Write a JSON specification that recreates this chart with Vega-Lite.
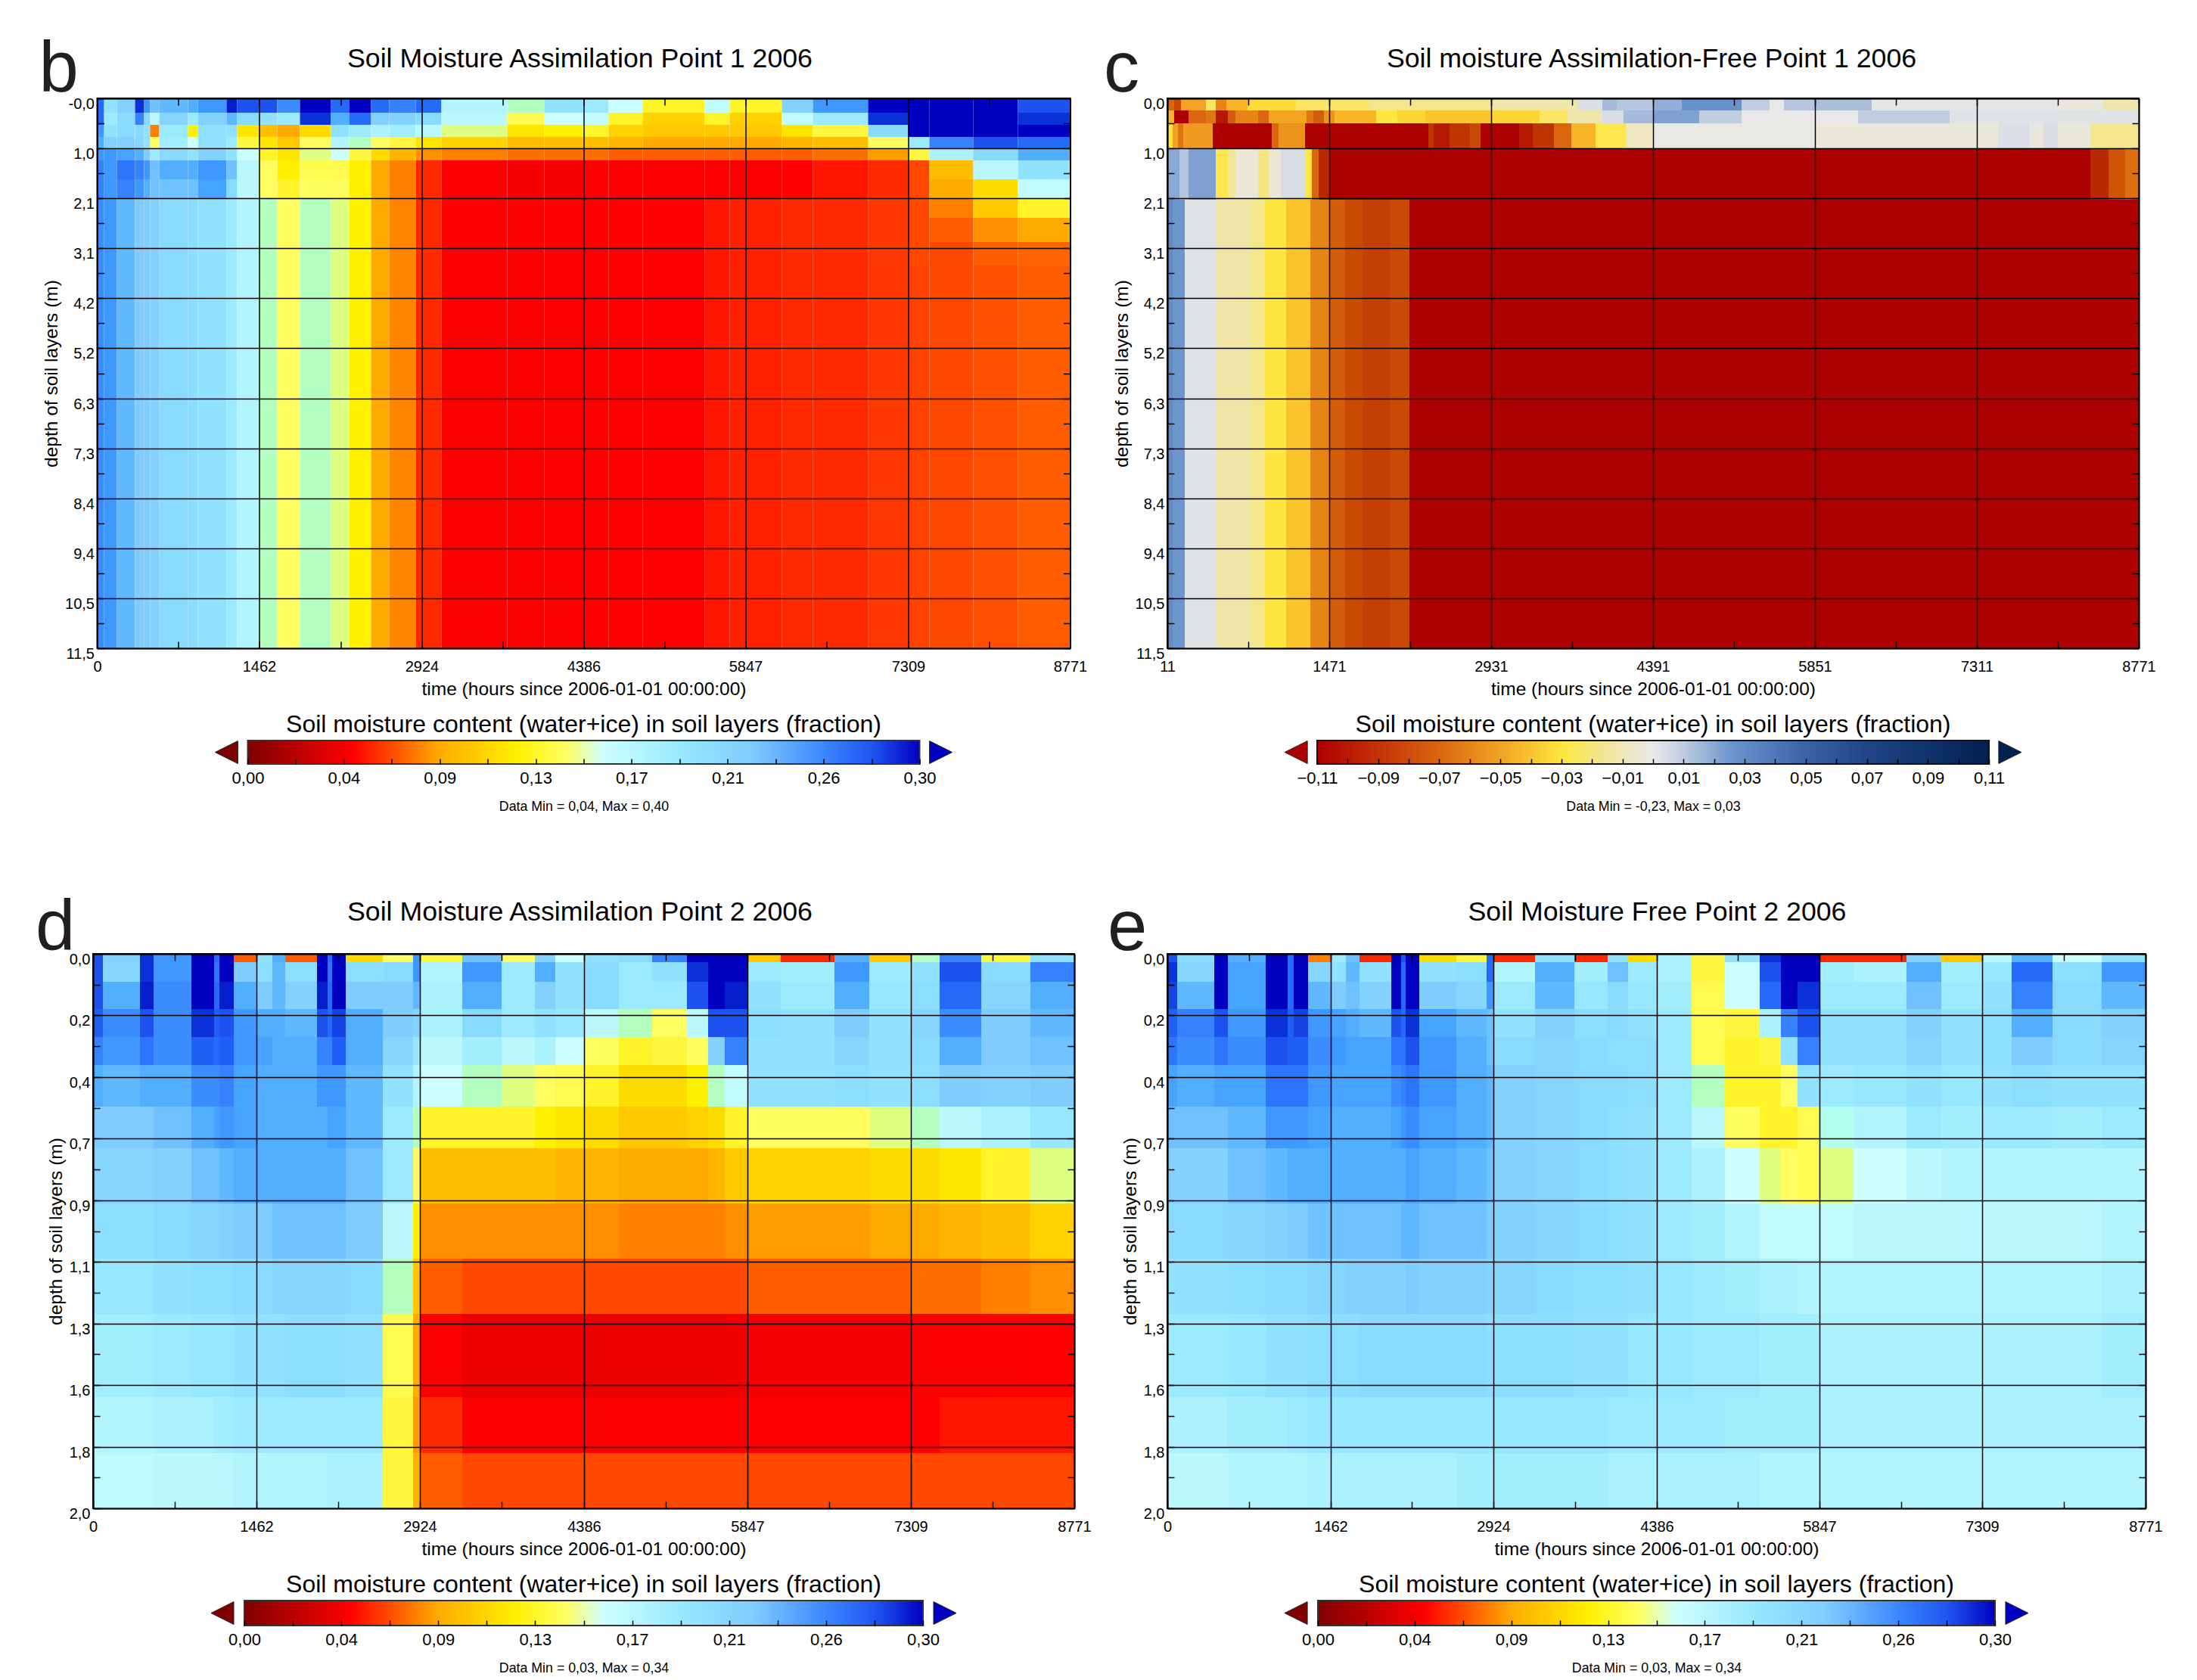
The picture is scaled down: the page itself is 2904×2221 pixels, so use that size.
{"$schema":"https://vega.github.io/schema/vega-lite/v6.json","background":"white","padding":{"left":46,"top":45,"right":0,"bottom":0},"bounds":"flush","center":true,"columns":3,"spacing":{"row":122,"column":123},"resolve":{"scale":{"color":"independent"}},
"config":{"font":"Liberation Sans","view":{"stroke":"#000","strokeWidth":2},"axis":{"domainColor":"#000","domainWidth":2,"tickColor":"#000","tickWidth":1.5,"gridColor":"#000","gridWidth":1.5,"labelFont":"Liberation Sans","labelFontSize":20,"labelColor":"#000","titleFont":"Liberation Sans","titleFontWeight":"normal","titleFontSize":24.5,"titleColor":"#000","labelOverlap":false,"labelFlush":false,"labelBound":false,"tickSize":-9}},
"datasets":{
"colsB":[{"i":0,"t0":0,"t1":60},{"i":1,"t0":60,"t1":180},{"i":2,"t0":180,"t1":340},{"i":3,"t0":340,"t1":420},{"i":4,"t0":420,"t1":480},{"i":5,"t0":480,"t1":560},{"i":6,"t0":560,"t1":820},{"i":7,"t0":820,"t1":910},{"i":8,"t0":910,"t1":1165},{"i":9,"t0":1165,"t1":1265},{"i":10,"t0":1265,"t1":1462},{"i":11,"t0":1462,"t1":1620},{"i":12,"t0":1620,"t1":1830},{"i":13,"t0":1830,"t1":2110},{"i":14,"t0":2110,"t1":2270},{"i":15,"t0":2270,"t1":2470},{"i":16,"t0":2470,"t1":2630},{"i":17,"t0":2630,"t1":2870},{"i":18,"t0":2870,"t1":3100},{"i":19,"t0":3100,"t1":3700},{"i":20,"t0":3700,"t1":4030},{"i":21,"t0":4030,"t1":4386},{"i":22,"t0":4386,"t1":4610},{"i":23,"t0":4610,"t1":4920},{"i":24,"t0":4920,"t1":5480},{"i":25,"t0":5480,"t1":5700},{"i":26,"t0":5700,"t1":6170},{"i":27,"t0":6170,"t1":6450},{"i":28,"t0":6450,"t1":6950},{"i":29,"t0":6950,"t1":7309},{"i":30,"t0":7309,"t1":7500},{"i":31,"t0":7500,"t1":7900},{"i":32,"t0":7900,"t1":8300},{"i":33,"t0":8300,"t1":8771}],
"rowsB":[{"j":0,"d0":0,"d1":0.3},{"j":1,"d0":0.3,"d1":0.55},{"j":2,"d0":0.55,"d1":0.8},{"j":3,"d0":0.8,"d1":1.05},{"j":4,"d0":1.05,"d1":1.3},{"j":5,"d0":1.3,"d1":1.7},{"j":6,"d0":1.7,"d1":2.1},{"j":7,"d0":2.1,"d1":11.5},{"j":8,"d0":2.1,"d1":2.5},{"j":9,"d0":2.5,"d1":3},{"j":10,"d0":3,"d1":3.5},{"j":11,"d0":3.5,"d1":11.5}],
"cellsB":[
{"i":0,"j":0,"v":0.27},{"i":0,"j":1,"v":0.27},{"i":0,"j":2,"v":0.25},{"i":0,"j":3,"v":0.24},{"i":0,"j":4,"v":0.25},{"i":0,"j":5,"v":0.26},{"i":0,"j":6,"v":0.26},{"i":0,"j":7,"v":0.255},
{"i":1,"j":0,"v":0.2},{"i":1,"j":1,"v":0.19},{"i":1,"j":2,"v":0.2},{"i":1,"j":3,"v":0.22},{"i":1,"j":4,"v":0.25},{"i":1,"j":5,"v":0.25},{"i":1,"j":6,"v":0.25},{"i":1,"j":7,"v":0.25},
{"i":2,"j":0,"v":0.22},{"i":2,"j":1,"v":0.21},{"i":2,"j":2,"v":0.21},{"i":2,"j":3,"v":0.22},{"i":2,"j":4,"v":0.245},{"i":2,"j":5,"v":0.265},{"i":2,"j":6,"v":0.26},{"i":2,"j":7,"v":0.235},
{"i":3,"j":0,"v":0.29},{"i":3,"j":1,"v":0.26},{"i":3,"j":2,"v":0.21},{"i":3,"j":3,"v":0.215},{"i":3,"j":4,"v":0.24},{"i":3,"j":5,"v":0.26},{"i":3,"j":6,"v":0.25},{"i":3,"j":7,"v":0.225},
{"i":4,"j":0,"v":0.25},{"i":4,"j":1,"v":0.21},{"i":4,"j":2,"v":0.2},{"i":4,"j":3,"v":0.2},{"i":4,"j":4,"v":0.225},{"i":4,"j":5,"v":0.25},{"i":4,"j":6,"v":0.24},{"i":4,"j":7,"v":0.225},
{"i":5,"j":0,"v":0.23},{"i":5,"j":1,"v":0.17},{"i":5,"j":2,"v":0.07},{"i":5,"j":3,"v":0.14},{"i":5,"j":4,"v":0.19},{"i":5,"j":5,"v":0.23},{"i":5,"j":6,"v":0.23},{"i":5,"j":7,"v":0.22},
{"i":6,"j":0,"v":0.235},{"i":6,"j":1,"v":0.215},{"i":6,"j":2,"v":0.19},{"i":6,"j":3,"v":0.185},{"i":6,"j":4,"v":0.21},{"i":6,"j":5,"v":0.24},{"i":6,"j":6,"v":0.23},{"i":6,"j":7,"v":0.21},
{"i":7,"j":0,"v":0.24},{"i":7,"j":1,"v":0.19},{"i":7,"j":2,"v":0.12},{"i":7,"j":3,"v":0.16},{"i":7,"j":4,"v":0.2},{"i":7,"j":5,"v":0.24},{"i":7,"j":6,"v":0.23},{"i":7,"j":7,"v":0.205},
{"i":8,"j":0,"v":0.25},{"i":8,"j":1,"v":0.22},{"i":8,"j":2,"v":0.2},{"i":8,"j":3,"v":0.2},{"i":8,"j":4,"v":0.22},{"i":8,"j":5,"v":0.25},{"i":8,"j":6,"v":0.245},{"i":8,"j":7,"v":0.2},
{"i":9,"j":0,"v":0.295},{"i":9,"j":1,"v":0.235},{"i":9,"j":2,"v":0.2},{"i":9,"j":3,"v":0.19},{"i":9,"j":4,"v":0.2},{"i":9,"j":5,"v":0.23},{"i":9,"j":6,"v":0.21},{"i":9,"j":7,"v":0.19},
{"i":10,"j":0,"v":0.28},{"i":10,"j":1,"v":0.21},{"i":10,"j":2,"v":0.115},{"i":10,"j":3,"v":0.13},{"i":10,"j":4,"v":0.16},{"i":10,"j":5,"v":0.17},{"i":10,"j":6,"v":0.17},{"i":10,"j":7,"v":0.175},
{"i":11,"j":0,"v":0.28},{"i":11,"j":1,"v":0.2},{"i":11,"j":2,"v":0.095},{"i":11,"j":3,"v":0.115},{"i":11,"j":4,"v":0.125},{"i":11,"j":5,"v":0.14},{"i":11,"j":6,"v":0.14},{"i":11,"j":7,"v":0.15},
{"i":12,"j":0,"v":0.255},{"i":12,"j":1,"v":0.19},{"i":12,"j":2,"v":0.085},{"i":12,"j":3,"v":0.1},{"i":12,"j":4,"v":0.115},{"i":12,"j":5,"v":0.12},{"i":12,"j":6,"v":0.125},{"i":12,"j":7,"v":0.14},
{"i":13,"j":0,"v":0.3},{"i":13,"j":1,"v":0.29},{"i":13,"j":2,"v":0.11},{"i":13,"j":3,"v":0.14},{"i":13,"j":4,"v":0.145},{"i":13,"j":5,"v":0.135},{"i":13,"j":6,"v":0.14},{"i":13,"j":7,"v":0.15},
{"i":14,"j":0,"v":0.27},{"i":14,"j":1,"v":0.24},{"i":14,"j":2,"v":0.2},{"i":14,"j":3,"v":0.175},{"i":14,"j":4,"v":0.16},{"i":14,"j":5,"v":0.135},{"i":14,"j":6,"v":0.14},{"i":14,"j":7,"v":0.145},
{"i":15,"j":0,"v":0.3},{"i":15,"j":1,"v":0.27},{"i":15,"j":2,"v":0.19},{"i":15,"j":3,"v":0.15},{"i":15,"j":4,"v":0.13},{"i":15,"j":5,"v":0.12},{"i":15,"j":6,"v":0.12},{"i":15,"j":7,"v":0.12},
{"i":16,"j":0,"v":0.27},{"i":16,"j":1,"v":0.22},{"i":16,"j":2,"v":0.18},{"i":16,"j":3,"v":0.14},{"i":16,"j":4,"v":0.11},{"i":16,"j":5,"v":0.085},{"i":16,"j":6,"v":0.085},{"i":16,"j":7,"v":0.085},
{"i":17,"j":0,"v":0.26},{"i":17,"j":1,"v":0.22},{"i":17,"j":2,"v":0.185},{"i":17,"j":3,"v":0.13},{"i":17,"j":4,"v":0.09},{"i":17,"j":5,"v":0.07},{"i":17,"j":6,"v":0.07},{"i":17,"j":7,"v":0.072},
{"i":18,"j":0,"v":0.27},{"i":18,"j":1,"v":0.21},{"i":18,"j":2,"v":0.17},{"i":18,"j":3,"v":0.115},{"i":18,"j":4,"v":0.075},{"i":18,"j":5,"v":0.05},{"i":18,"j":6,"v":0.05},{"i":18,"j":7,"v":0.05},
{"i":19,"j":0,"v":0.175},{"i":19,"j":1,"v":0.17},{"i":19,"j":2,"v":0.145},{"i":19,"j":3,"v":0.105},{"i":19,"j":4,"v":0.07},{"i":19,"j":5,"v":0.045},{"i":19,"j":6,"v":0.045},{"i":19,"j":7,"v":0.046},
{"i":20,"j":0,"v":0.15},{"i":20,"j":1,"v":0.135},{"i":20,"j":2,"v":0.115},{"i":20,"j":3,"v":0.095},{"i":20,"j":4,"v":0.065},{"i":20,"j":5,"v":0.044},{"i":20,"j":6,"v":0.044},{"i":20,"j":7,"v":0.046},
{"i":21,"j":0,"v":0.2},{"i":21,"j":1,"v":0.16},{"i":21,"j":2,"v":0.12},{"i":21,"j":3,"v":0.095},{"i":21,"j":4,"v":0.065},{"i":21,"j":5,"v":0.044},{"i":21,"j":6,"v":0.044},{"i":21,"j":7,"v":0.046},
{"i":22,"j":0,"v":0.19},{"i":22,"j":1,"v":0.165},{"i":22,"j":2,"v":0.125},{"i":22,"j":3,"v":0.095},{"i":22,"j":4,"v":0.065},{"i":22,"j":5,"v":0.045},{"i":22,"j":6,"v":0.045},{"i":22,"j":7,"v":0.046},
{"i":23,"j":0,"v":0.16},{"i":23,"j":1,"v":0.125},{"i":23,"j":2,"v":0.105},{"i":23,"j":3,"v":0.09},{"i":23,"j":4,"v":0.06},{"i":23,"j":5,"v":0.045},{"i":23,"j":6,"v":0.045},{"i":23,"j":7,"v":0.047},
{"i":24,"j":0,"v":0.125},{"i":24,"j":1,"v":0.105},{"i":24,"j":2,"v":0.1},{"i":24,"j":3,"v":0.085},{"i":24,"j":4,"v":0.06},{"i":24,"j":5,"v":0.045},{"i":24,"j":6,"v":0.045},{"i":24,"j":7,"v":0.047},
{"i":25,"j":0,"v":0.165},{"i":25,"j":1,"v":0.125},{"i":25,"j":2,"v":0.1},{"i":25,"j":3,"v":0.085},{"i":25,"j":4,"v":0.06},{"i":25,"j":5,"v":0.045},{"i":25,"j":6,"v":0.045},{"i":25,"j":7,"v":0.048},
{"i":26,"j":0,"v":0.125},{"i":26,"j":1,"v":0.105},{"i":26,"j":2,"v":0.1},{"i":26,"j":3,"v":0.085},{"i":26,"j":4,"v":0.06},{"i":26,"j":5,"v":0.045},{"i":26,"j":6,"v":0.045},{"i":26,"j":7,"v":0.049},
{"i":27,"j":0,"v":0.22},{"i":27,"j":1,"v":0.165},{"i":27,"j":2,"v":0.115},{"i":27,"j":3,"v":0.09},{"i":27,"j":4,"v":0.06},{"i":27,"j":5,"v":0.047},{"i":27,"j":6,"v":0.047},{"i":27,"j":7,"v":0.05},
{"i":28,"j":0,"v":0.25},{"i":28,"j":1,"v":0.19},{"i":28,"j":2,"v":0.13},{"i":28,"j":3,"v":0.095},{"i":28,"j":4,"v":0.065},{"i":28,"j":5,"v":0.048},{"i":28,"j":6,"v":0.048},{"i":28,"j":7,"v":0.05},
{"i":29,"j":0,"v":0.3},{"i":29,"j":1,"v":0.29},{"i":29,"j":2,"v":0.21},{"i":29,"j":3,"v":0.14},{"i":29,"j":4,"v":0.08},{"i":29,"j":5,"v":0.05},{"i":29,"j":6,"v":0.05},{"i":29,"j":7,"v":0.052},
{"i":30,"j":0,"v":0.3},{"i":30,"j":1,"v":0.3},{"i":30,"j":2,"v":0.3},{"i":30,"j":3,"v":0.19},{"i":30,"j":4,"v":0.13},{"i":30,"j":5,"v":0.055},{"i":30,"j":6,"v":0.055},{"i":30,"j":8,"v":0.055},{"i":30,"j":9,"v":0.055},{"i":30,"j":10,"v":0.055},{"i":30,"j":11,"v":0.054},
{"i":31,"j":0,"v":0.3},{"i":31,"j":1,"v":0.3},{"i":31,"j":2,"v":0.3},{"i":31,"j":3,"v":0.26},{"i":31,"j":4,"v":0.18},{"i":31,"j":5,"v":0.095},{"i":31,"j":6,"v":0.085},{"i":31,"j":8,"v":0.07},{"i":31,"j":9,"v":0.06},{"i":31,"j":10,"v":0.055},{"i":31,"j":11,"v":0.055},
{"i":32,"j":0,"v":0.3},{"i":32,"j":1,"v":0.3},{"i":32,"j":2,"v":0.3},{"i":32,"j":3,"v":0.28},{"i":32,"j":4,"v":0.21},{"i":32,"j":5,"v":0.17},{"i":32,"j":6,"v":0.11},{"i":32,"j":8,"v":0.1},{"i":32,"j":9,"v":0.075},{"i":32,"j":10,"v":0.06},{"i":32,"j":11,"v":0.057},
{"i":33,"j":0,"v":0.28},{"i":33,"j":1,"v":0.29},{"i":33,"j":2,"v":0.3},{"i":33,"j":3,"v":0.27},{"i":33,"j":4,"v":0.24},{"i":33,"j":5,"v":0.2},{"i":33,"j":6,"v":0.165},{"i":33,"j":8,"v":0.125},{"i":33,"j":9,"v":0.085},{"i":33,"j":10,"v":0.062},{"i":33,"j":11,"v":0.06}],
"cellsC":[
{"t0":11,"t1":74,"d0":0,"d1":0.25,"v":-0.07},{"t0":74,"t1":137,"d0":0,"d1":0.25,"v":-0.085},{"t0":137,"t1":356,"d0":0,"d1":0.25,"v":-0.05},{"t0":356,"t1":450,"d0":0,"d1":0.25,"v":-0.025},{"t0":450,"t1":545,"d0":0,"d1":0.25,"v":-0.06},{"t0":545,"t1":733,"d0":0,"d1":0.25,"v":-0.045},{"t0":733,"t1":1173,"d0":0,"d1":0.25,"v":-0.033},{"t0":1173,"t1":1832,"d0":0,"d1":0.25,"v":-0.025},{"t0":1832,"t1":2931,"d0":0,"d1":0.25,"v":-0.018},{"t0":2931,"t1":3716,"d0":0,"d1":0.25,"v":-0.012},{"t0":3716,"t1":3936,"d0":0,"d1":0.25,"v":0.003},{"t0":3936,"t1":4062,"d0":0,"d1":0.25,"v":0.015},{"t0":4062,"t1":4391,"d0":0,"d1":0.25,"v":0.012},{"t0":4391,"t1":4651,"d0":0,"d1":0.25,"v":0.018},{"t0":4651,"t1":5187,"d0":0,"d1":0.25,"v":0.027},{"t0":5187,"t1":5440,"d0":0,"d1":0.25,"v":0.01},{"t0":5440,"t1":5570,"d0":0,"d1":0.25,"v":0},{"t0":5570,"t1":5851,"d0":0,"d1":0.25,"v":0.012},{"t0":5851,"t1":6360,"d0":0,"d1":0.25,"v":0.014},{"t0":6360,"t1":8040,"d0":0,"d1":0.25,"v":0.001},{"t0":8040,"t1":8452,"d0":0,"d1":0.25,"v":-0.002},{"t0":8452,"t1":8771,"d0":0,"d1":0.25,"v":-0.012},
{"t0":11,"t1":74,"d0":0.25,"d1":0.52,"v":-0.045},{"t0":74,"t1":199,"d0":0.25,"d1":0.52,"v":-0.11},{"t0":199,"t1":356,"d0":0.25,"d1":0.52,"v":-0.07},{"t0":356,"t1":450,"d0":0.25,"d1":0.52,"v":-0.065},{"t0":450,"t1":560,"d0":0.25,"d1":0.52,"v":-0.105},{"t0":560,"t1":623,"d0":0.25,"d1":0.52,"v":-0.075},{"t0":623,"t1":827,"d0":0.25,"d1":0.52,"v":-0.06},{"t0":827,"t1":922,"d0":0.25,"d1":0.52,"v":-0.07},{"t0":922,"t1":1267,"d0":0.25,"d1":0.52,"v":-0.05},{"t0":1267,"t1":1330,"d0":0.25,"d1":0.52,"v":-0.065},{"t0":1330,"t1":1424,"d0":0.25,"d1":0.52,"v":-0.075},{"t0":1424,"t1":1518,"d0":0.25,"d1":0.52,"v":-0.055},{"t0":1518,"t1":1895,"d0":0.25,"d1":0.52,"v":-0.045},{"t0":1895,"t1":2083,"d0":0.25,"d1":0.52,"v":-0.03},{"t0":2083,"t1":2335,"d0":0.25,"d1":0.52,"v":-0.035},{"t0":2335,"t1":2931,"d0":0.25,"d1":0.52,"v":-0.04},{"t0":2931,"t1":3371,"d0":0.25,"d1":0.52,"v":-0.035},{"t0":3371,"t1":3622,"d0":0.25,"d1":0.52,"v":-0.025},{"t0":3622,"t1":3936,"d0":0.25,"d1":0.52,"v":-0.012},{"t0":3936,"t1":4124,"d0":0.25,"d1":0.52,"v":0.004},{"t0":4124,"t1":4391,"d0":0.25,"d1":0.52,"v":0.015},{"t0":4391,"t1":4810,"d0":0.25,"d1":0.52,"v":0.022},{"t0":4810,"t1":5187,"d0":0.25,"d1":0.52,"v":0.01},{"t0":5187,"t1":6240,"d0":0.25,"d1":0.52,"v":0},{"t0":6240,"t1":7064,"d0":0.25,"d1":0.52,"v":0.01},{"t0":7064,"t1":8771,"d0":0.25,"d1":0.52,"v":0.002},
{"t0":11,"t1":58,"d0":0.52,"d1":1.045,"v":-0.03},{"t0":58,"t1":105,"d0":0.52,"d1":1.045,"v":-0.05},{"t0":105,"t1":152,"d0":0.52,"d1":1.045,"v":-0.065},{"t0":152,"t1":419,"d0":0.52,"d1":1.045,"v":-0.053},{"t0":419,"t1":953,"d0":0.52,"d1":1.045,"v":-0.11},{"t0":953,"t1":1016,"d0":0.52,"d1":1.045,"v":-0.07},{"t0":1016,"t1":1251,"d0":0.52,"d1":1.045,"v":-0.055},{"t0":1251,"t1":2366,"d0":0.52,"d1":1.045,"v":-0.11},{"t0":2366,"t1":2413,"d0":0.52,"d1":1.045,"v":-0.095},{"t0":2413,"t1":2554,"d0":0.52,"d1":1.045,"v":-0.105},{"t0":2554,"t1":2743,"d0":0.52,"d1":1.045,"v":-0.095},{"t0":2743,"t1":2837,"d0":0.52,"d1":1.045,"v":-0.085},{"t0":2837,"t1":3182,"d0":0.52,"d1":1.045,"v":-0.11},{"t0":3182,"t1":3308,"d0":0.52,"d1":1.045,"v":-0.105},{"t0":3308,"t1":3497,"d0":0.52,"d1":1.045,"v":-0.095},{"t0":3497,"t1":3654,"d0":0.52,"d1":1.045,"v":-0.07},{"t0":3654,"t1":3873,"d0":0.52,"d1":1.045,"v":-0.045},{"t0":3873,"t1":4147,"d0":0.52,"d1":1.045,"v":-0.028},{"t0":4147,"t1":4391,"d0":0.52,"d1":1.045,"v":-0.008},{"t0":4391,"t1":5851,"d0":0.52,"d1":1.045,"v":-0.001},{"t0":5851,"t1":7500,"d0":0.52,"d1":1.045,"v":-0.003},{"t0":7500,"t1":7790,"d0":0.52,"d1":1.045,"v":0.003},{"t0":7790,"t1":7910,"d0":0.52,"d1":1.045,"v":-0.002},{"t0":7910,"t1":8040,"d0":0.52,"d1":1.045,"v":0.004},{"t0":8040,"t1":8332,"d0":0.52,"d1":1.045,"v":-0.003},{"t0":8332,"t1":8771,"d0":0.52,"d1":1.045,"v":-0.018},
{"t0":11,"t1":121,"d0":1.045,"d1":2.12,"v":0.02},{"t0":121,"t1":199,"d0":1.045,"d1":2.12,"v":0.012},{"t0":199,"t1":450,"d0":1.045,"d1":2.12,"v":0.022},{"t0":450,"t1":560,"d0":1.045,"d1":2.12,"v":-0.028},{"t0":560,"t1":623,"d0":1.045,"d1":2.12,"v":-0.015},{"t0":623,"t1":827,"d0":1.045,"d1":2.12,"v":-0.004},{"t0":827,"t1":922,"d0":1.045,"d1":2.12,"v":-0.02},{"t0":922,"t1":1032,"d0":1.045,"d1":2.12,"v":-0.004},{"t0":1032,"t1":1251,"d0":1.045,"d1":2.12,"v":0.004},{"t0":1251,"t1":1314,"d0":1.045,"d1":2.12,"v":-0.03},{"t0":1314,"t1":1377,"d0":1.045,"d1":2.12,"v":-0.07},{"t0":1377,"t1":1471,"d0":1.045,"d1":2.12,"v":-0.1},{"t0":1471,"t1":8332,"d0":1.045,"d1":2.12,"v":-0.11},{"t0":8332,"t1":8500,"d0":1.045,"d1":2.12,"v":-0.1},{"t0":8500,"t1":8650,"d0":1.045,"d1":2.12,"v":-0.08},{"t0":8650,"t1":8771,"d0":1.045,"d1":2.12,"v":-0.067},
{"t0":11,"t1":58,"d0":2.12,"d1":11.5,"v":0.03},{"t0":58,"t1":168,"d0":2.12,"d1":11.5,"v":0.025},{"t0":168,"t1":450,"d0":2.12,"d1":11.5,"v":0.002},{"t0":450,"t1":765,"d0":2.12,"d1":11.5,"v":-0.013},{"t0":765,"t1":890,"d0":2.12,"d1":11.5,"v":-0.018},{"t0":890,"t1":1079,"d0":2.12,"d1":11.5,"v":-0.03},{"t0":1079,"t1":1298,"d0":2.12,"d1":11.5,"v":-0.04},{"t0":1298,"t1":1471,"d0":2.12,"d1":11.5,"v":-0.06},{"t0":1471,"t1":1612,"d0":2.12,"d1":11.5,"v":-0.075},{"t0":1612,"t1":1770,"d0":2.12,"d1":11.5,"v":-0.085},{"t0":1770,"t1":2020,"d0":2.12,"d1":11.5,"v":-0.09},{"t0":2020,"t1":2193,"d0":2.12,"d1":11.5,"v":-0.085},{"t0":2193,"t1":8771,"d0":2.12,"d1":11.5,"v":-0.11}],
"colsDE":[{"i":0,"t0":0,"t1":90},{"i":1,"t0":90,"t1":420},{"i":2,"t0":420,"t1":540},{"i":3,"t0":540,"t1":880},{"i":4,"t0":880,"t1":1080},{"i":5,"t0":1080,"t1":1130},{"i":6,"t0":1130,"t1":1260},{"i":7,"t0":1260,"t1":1462},{"i":8,"t0":1462,"t1":1600},{"i":9,"t0":1600,"t1":1720},{"i":10,"t0":1720,"t1":2005},{"i":11,"t0":2005,"t1":2095},{"i":12,"t0":2095,"t1":2140},{"i":13,"t0":2140,"t1":2260},{"i":14,"t0":2260,"t1":2590},{"i":15,"t0":2590,"t1":2860},{"i":16,"t0":2860,"t1":2924},{"i":17,"t0":2924,"t1":3300},{"i":18,"t0":3300,"t1":3650},{"i":19,"t0":3650,"t1":3950},{"i":20,"t0":3950,"t1":4130},{"i":21,"t0":4130,"t1":4386},{"i":22,"t0":4386,"t1":4700},{"i":23,"t0":4700,"t1":5000},{"i":24,"t0":5000,"t1":5310},{"i":25,"t0":5310,"t1":5500},{"i":26,"t0":5500,"t1":5650},{"i":27,"t0":5650,"t1":5847},{"i":28,"t0":5847,"t1":6150},{"i":29,"t0":6150,"t1":6630},{"i":30,"t0":6630,"t1":6940},{"i":31,"t0":6940,"t1":7309},{"i":32,"t0":7309,"t1":7570},{"i":33,"t0":7570,"t1":7940},{"i":34,"t0":7940,"t1":8380},{"i":35,"t0":8380,"t1":8771}],
"rowsDE":[{"j":0,"d0":0,"d1":0.03},{"j":1,"d0":0.03,"d1":0.1},{"j":2,"d0":0.1,"d1":0.2},{"j":3,"d0":0.2,"d1":0.3},{"j":4,"d0":0.3,"d1":0.4},{"j":5,"d0":0.4,"d1":0.55},{"j":6,"d0":0.55,"d1":0.7},{"j":7,"d0":0.7,"d1":0.9},{"j":8,"d0":0.9,"d1":1.1},{"j":9,"d0":1.1,"d1":1.3},{"j":10,"d0":1.3,"d1":1.6},{"j":11,"d0":1.6,"d1":1.8},{"j":12,"d0":1.8,"d1":2}],
"cellsD":[
{"i":0,"j":0,"v":0.28},{"i":1,"j":0,"v":0.22},{"i":2,"j":0,"v":0.29},{"i":3,"j":0,"v":0.25},{"i":4,"j":0,"v":0.3},{"i":5,"j":0,"v":0.27},{"i":6,"j":0,"v":0.3},{"i":7,"j":0,"v":0.06},{"i":8,"j":0,"v":0.2},{"i":9,"j":0,"v":0.24},{"i":10,"j":0,"v":0.06},{"i":11,"j":0,"v":0.3},{"i":12,"j":0,"v":0.27},{"i":13,"j":0,"v":0.3},{"i":14,"j":0,"v":0.11},{"i":15,"j":0,"v":0.14},{"i":16,"j":0,"v":0.25},{"i":17,"j":0,"v":0.13},{"i":18,"j":0,"v":0.23},{"i":19,"j":0,"v":0.14},{"i":20,"j":0,"v":0.22},{"i":21,"j":0,"v":0.16},{"i":22,"j":0,"v":0.2},{"i":23,"j":0,"v":0.21},{"i":24,"j":0,"v":0.26},{"i":25,"j":0,"v":0.3},{"i":26,"j":0,"v":0.3},{"i":27,"j":0,"v":0.3},{"i":28,"j":0,"v":0.1},{"i":29,"j":0,"v":0.05},{"i":30,"j":0,"v":0.24},{"i":31,"j":0,"v":0.1},{"i":32,"j":0,"v":0.15},{"i":33,"j":0,"v":0.26},{"i":34,"j":0,"v":0.13},{"i":35,"j":0,"v":0.2},
{"i":0,"j":1,"v":0.28},{"i":1,"j":1,"v":0.215},{"i":2,"j":1,"v":0.29},{"i":3,"j":1,"v":0.25},{"i":4,"j":1,"v":0.3},{"i":5,"j":1,"v":0.265},{"i":6,"j":1,"v":0.3},{"i":7,"j":1,"v":0.225},{"i":8,"j":1,"v":0.205},{"i":9,"j":1,"v":0.235},{"i":10,"j":1,"v":0.205},{"i":11,"j":1,"v":0.3},{"i":12,"j":1,"v":0.265},{"i":13,"j":1,"v":0.3},{"i":14,"j":1,"v":0.205},{"i":15,"j":1,"v":0.21},{"i":16,"j":1,"v":0.25},{"i":17,"j":1,"v":0.175},{"i":18,"j":1,"v":0.25},{"i":19,"j":1,"v":0.19},{"i":20,"j":1,"v":0.24},{"i":21,"j":1,"v":0.2},{"i":22,"j":1,"v":0.21},{"i":23,"j":1,"v":0.19},{"i":24,"j":1,"v":0.2},{"i":25,"j":1,"v":0.29},{"i":26,"j":1,"v":0.3},{"i":27,"j":1,"v":0.3},{"i":28,"j":1,"v":0.19},{"i":29,"j":1,"v":0.185},{"i":30,"j":1,"v":0.25},{"i":31,"j":1,"v":0.19},{"i":32,"j":1,"v":0.2},{"i":33,"j":1,"v":0.28},{"i":34,"j":1,"v":0.21},{"i":35,"j":1,"v":0.26},
{"i":0,"j":2,"v":0.28},{"i":1,"j":2,"v":0.24},{"i":2,"j":2,"v":0.295},{"i":3,"j":2,"v":0.255},{"i":4,"j":2,"v":0.3},{"i":5,"j":2,"v":0.27},{"i":6,"j":2,"v":0.295},{"i":7,"j":2,"v":0.24},{"i":8,"j":2,"v":0.225},{"i":9,"j":2,"v":0.235},{"i":10,"j":2,"v":0.22},{"i":11,"j":2,"v":0.295},{"i":12,"j":2,"v":0.27},{"i":13,"j":2,"v":0.3},{"i":14,"j":2,"v":0.225},{"i":15,"j":2,"v":0.225},{"i":16,"j":2,"v":0.235},{"i":17,"j":2,"v":0.18},{"i":18,"j":2,"v":0.24},{"i":19,"j":2,"v":0.19},{"i":20,"j":2,"v":0.22},{"i":21,"j":2,"v":0.2},{"i":22,"j":2,"v":0.21},{"i":23,"j":2,"v":0.19},{"i":24,"j":2,"v":0.19},{"i":25,"j":2,"v":0.28},{"i":26,"j":2,"v":0.3},{"i":27,"j":2,"v":0.295},{"i":28,"j":2,"v":0.2},{"i":29,"j":2,"v":0.19},{"i":30,"j":2,"v":0.24},{"i":31,"j":2,"v":0.195},{"i":32,"j":2,"v":0.205},{"i":33,"j":2,"v":0.27},{"i":34,"j":2,"v":0.215},{"i":35,"j":2,"v":0.24},
{"i":0,"j":3,"v":0.275},{"i":1,"j":3,"v":0.255},{"i":2,"j":3,"v":0.28},{"i":3,"j":3,"v":0.255},{"i":4,"j":3,"v":0.29},{"i":5,"j":3,"v":0.275},{"i":6,"j":3,"v":0.28},{"i":7,"j":3,"v":0.25},{"i":8,"j":3,"v":0.24},{"i":9,"j":3,"v":0.24},{"i":10,"j":3,"v":0.235},{"i":11,"j":3,"v":0.28},{"i":12,"j":3,"v":0.27},{"i":13,"j":3,"v":0.285},{"i":14,"j":3,"v":0.24},{"i":15,"j":3,"v":0.225},{"i":16,"j":3,"v":0.215},{"i":17,"j":3,"v":0.18},{"i":18,"j":3,"v":0.21},{"i":19,"j":3,"v":0.19},{"i":20,"j":3,"v":0.2},{"i":21,"j":3,"v":0.195},{"i":22,"j":3,"v":0.17},{"i":23,"j":3,"v":0.15},{"i":24,"j":3,"v":0.14},{"i":25,"j":3,"v":0.17},{"i":26,"j":3,"v":0.28},{"i":27,"j":3,"v":0.28},{"i":28,"j":3,"v":0.205},{"i":29,"j":3,"v":0.2},{"i":30,"j":3,"v":0.225},{"i":31,"j":3,"v":0.2},{"i":32,"j":3,"v":0.215},{"i":33,"j":3,"v":0.255},{"i":34,"j":3,"v":0.225},{"i":35,"j":3,"v":0.235},
{"i":0,"j":4,"v":0.26},{"i":1,"j":4,"v":0.25},{"i":2,"j":4,"v":0.265},{"i":3,"j":4,"v":0.255},{"i":4,"j":4,"v":0.275},{"i":5,"j":4,"v":0.27},{"i":6,"j":4,"v":0.275},{"i":7,"j":4,"v":0.25},{"i":8,"j":4,"v":0.245},{"i":9,"j":4,"v":0.24},{"i":10,"j":4,"v":0.24},{"i":11,"j":4,"v":0.26},{"i":12,"j":4,"v":0.26},{"i":13,"j":4,"v":0.275},{"i":14,"j":4,"v":0.24},{"i":15,"j":4,"v":0.215},{"i":16,"j":4,"v":0.195},{"i":17,"j":4,"v":0.17},{"i":18,"j":4,"v":0.185},{"i":19,"j":4,"v":0.17},{"i":20,"j":4,"v":0.18},{"i":21,"j":4,"v":0.16},{"i":22,"j":4,"v":0.14},{"i":23,"j":4,"v":0.125},{"i":24,"j":4,"v":0.13},{"i":25,"j":4,"v":0.14},{"i":26,"j":4,"v":0.22},{"i":27,"j":4,"v":0.26},{"i":28,"j":4,"v":0.2},{"i":29,"j":4,"v":0.2},{"i":30,"j":4,"v":0.215},{"i":31,"j":4,"v":0.2},{"i":32,"j":4,"v":0.21},{"i":33,"j":4,"v":0.24},{"i":34,"j":4,"v":0.225},{"i":35,"j":4,"v":0.23},
{"i":0,"j":5,"v":0.24},{"i":1,"j":5,"v":0.235},{"i":2,"j":5,"v":0.24},{"i":3,"j":5,"v":0.24},{"i":4,"j":5,"v":0.255},{"i":5,"j":5,"v":0.255},{"i":6,"j":5,"v":0.26},{"i":7,"j":5,"v":0.245},{"i":8,"j":5,"v":0.24},{"i":9,"j":5,"v":0.24},{"i":10,"j":5,"v":0.24},{"i":11,"j":5,"v":0.25},{"i":12,"j":5,"v":0.25},{"i":13,"j":5,"v":0.25},{"i":14,"j":5,"v":0.235},{"i":15,"j":5,"v":0.2},{"i":16,"j":5,"v":0.175},{"i":17,"j":5,"v":0.16},{"i":18,"j":5,"v":0.15},{"i":19,"j":5,"v":0.145},{"i":20,"j":5,"v":0.14},{"i":21,"j":5,"v":0.135},{"i":22,"j":5,"v":0.125},{"i":23,"j":5,"v":0.11},{"i":24,"j":5,"v":0.11},{"i":25,"j":5,"v":0.12},{"i":26,"j":5,"v":0.15},{"i":27,"j":5,"v":0.165},{"i":28,"j":5,"v":0.2},{"i":29,"j":5,"v":0.2},{"i":30,"j":5,"v":0.205},{"i":31,"j":5,"v":0.2},{"i":32,"j":5,"v":0.205},{"i":33,"j":5,"v":0.225},{"i":34,"j":5,"v":0.22},{"i":35,"j":5,"v":0.225},
{"i":0,"j":6,"v":0.225},{"i":1,"j":6,"v":0.225},{"i":2,"j":6,"v":0.225},{"i":3,"j":6,"v":0.23},{"i":4,"j":6,"v":0.24},{"i":5,"j":6,"v":0.245},{"i":6,"j":6,"v":0.25},{"i":7,"j":6,"v":0.245},{"i":8,"j":6,"v":0.24},{"i":9,"j":6,"v":0.24},{"i":10,"j":6,"v":0.24},{"i":11,"j":6,"v":0.24},{"i":12,"j":6,"v":0.245},{"i":13,"j":6,"v":0.245},{"i":14,"j":6,"v":0.235},{"i":15,"j":6,"v":0.19},{"i":16,"j":6,"v":0.15},{"i":17,"j":6,"v":0.125},{"i":18,"j":6,"v":0.125},{"i":19,"j":6,"v":0.125},{"i":20,"j":6,"v":0.12},{"i":21,"j":6,"v":0.115},{"i":22,"j":6,"v":0.11},{"i":23,"j":6,"v":0.1},{"i":24,"j":6,"v":0.1},{"i":25,"j":6,"v":0.105},{"i":26,"j":6,"v":0.11},{"i":27,"j":6,"v":0.125},{"i":28,"j":6,"v":0.14},{"i":29,"j":6,"v":0.14},{"i":30,"j":6,"v":0.14},{"i":31,"j":6,"v":0.145},{"i":32,"j":6,"v":0.15},{"i":33,"j":6,"v":0.17},{"i":34,"j":6,"v":0.18},{"i":35,"j":6,"v":0.195},
{"i":0,"j":7,"v":0.215},{"i":1,"j":7,"v":0.215},{"i":2,"j":7,"v":0.215},{"i":3,"j":7,"v":0.22},{"i":4,"j":7,"v":0.23},{"i":5,"j":7,"v":0.23},{"i":6,"j":7,"v":0.235},{"i":7,"j":7,"v":0.24},{"i":8,"j":7,"v":0.24},{"i":9,"j":7,"v":0.24},{"i":10,"j":7,"v":0.24},{"i":11,"j":7,"v":0.24},{"i":12,"j":7,"v":0.24},{"i":13,"j":7,"v":0.24},{"i":14,"j":7,"v":0.23},{"i":15,"j":7,"v":0.19},{"i":16,"j":7,"v":0.14},{"i":17,"j":7,"v":0.095},{"i":18,"j":7,"v":0.095},{"i":19,"j":7,"v":0.095},{"i":20,"j":7,"v":0.095},{"i":21,"j":7,"v":0.09},{"i":22,"j":7,"v":0.09},{"i":23,"j":7,"v":0.085},{"i":24,"j":7,"v":0.085},{"i":25,"j":7,"v":0.085},{"i":26,"j":7,"v":0.09},{"i":27,"j":7,"v":0.1},{"i":28,"j":7,"v":0.105},{"i":29,"j":7,"v":0.105},{"i":30,"j":7,"v":0.105},{"i":31,"j":7,"v":0.11},{"i":32,"j":7,"v":0.11},{"i":33,"j":7,"v":0.115},{"i":34,"j":7,"v":0.125},{"i":35,"j":7,"v":0.145},
{"i":0,"j":8,"v":0.205},{"i":1,"j":8,"v":0.205},{"i":2,"j":8,"v":0.205},{"i":3,"j":8,"v":0.21},{"i":4,"j":8,"v":0.215},{"i":5,"j":8,"v":0.215},{"i":6,"j":8,"v":0.22},{"i":7,"j":8,"v":0.225},{"i":8,"j":8,"v":0.225},{"i":9,"j":8,"v":0.23},{"i":10,"j":8,"v":0.23},{"i":11,"j":8,"v":0.23},{"i":12,"j":8,"v":0.23},{"i":13,"j":8,"v":0.23},{"i":14,"j":8,"v":0.225},{"i":15,"j":8,"v":0.17},{"i":16,"j":8,"v":0.12},{"i":17,"j":8,"v":0.075},{"i":18,"j":8,"v":0.075},{"i":19,"j":8,"v":0.075},{"i":20,"j":8,"v":0.075},{"i":21,"j":8,"v":0.075},{"i":22,"j":8,"v":0.075},{"i":23,"j":8,"v":0.07},{"i":24,"j":8,"v":0.07},{"i":25,"j":8,"v":0.07},{"i":26,"j":8,"v":0.07},{"i":27,"j":8,"v":0.075},{"i":28,"j":8,"v":0.08},{"i":29,"j":8,"v":0.08},{"i":30,"j":8,"v":0.08},{"i":31,"j":8,"v":0.085},{"i":32,"j":8,"v":0.085},{"i":33,"j":8,"v":0.09},{"i":34,"j":8,"v":0.095},{"i":35,"j":8,"v":0.105},
{"i":0,"j":9,"v":0.195},{"i":1,"j":9,"v":0.195},{"i":2,"j":9,"v":0.195},{"i":3,"j":9,"v":0.2},{"i":4,"j":9,"v":0.205},{"i":5,"j":9,"v":0.205},{"i":6,"j":9,"v":0.205},{"i":7,"j":9,"v":0.21},{"i":8,"j":9,"v":0.21},{"i":9,"j":9,"v":0.215},{"i":10,"j":9,"v":0.215},{"i":11,"j":9,"v":0.215},{"i":12,"j":9,"v":0.215},{"i":13,"j":9,"v":0.215},{"i":14,"j":9,"v":0.21},{"i":15,"j":9,"v":0.15},{"i":16,"j":9,"v":0.1},{"i":17,"j":9,"v":0.06},{"i":18,"j":9,"v":0.055},{"i":19,"j":9,"v":0.055},{"i":20,"j":9,"v":0.055},{"i":21,"j":9,"v":0.055},{"i":22,"j":9,"v":0.055},{"i":23,"j":9,"v":0.055},{"i":24,"j":9,"v":0.055},{"i":25,"j":9,"v":0.055},{"i":26,"j":9,"v":0.055},{"i":27,"j":9,"v":0.055},{"i":28,"j":9,"v":0.06},{"i":29,"j":9,"v":0.06},{"i":30,"j":9,"v":0.06},{"i":31,"j":9,"v":0.06},{"i":32,"j":9,"v":0.065},{"i":33,"j":9,"v":0.065},{"i":34,"j":9,"v":0.07},{"i":35,"j":9,"v":0.075},
{"i":0,"j":10,"v":0.185},{"i":1,"j":10,"v":0.185},{"i":2,"j":10,"v":0.185},{"i":3,"j":10,"v":0.19},{"i":4,"j":10,"v":0.195},{"i":5,"j":10,"v":0.195},{"i":6,"j":10,"v":0.195},{"i":7,"j":10,"v":0.2},{"i":8,"j":10,"v":0.2},{"i":9,"j":10,"v":0.2},{"i":10,"j":10,"v":0.205},{"i":11,"j":10,"v":0.205},{"i":12,"j":10,"v":0.205},{"i":13,"j":10,"v":0.205},{"i":14,"j":10,"v":0.2},{"i":15,"j":10,"v":0.135},{"i":16,"j":10,"v":0.085},{"i":17,"j":10,"v":0.045},{"i":18,"j":10,"v":0.04},{"i":19,"j":10,"v":0.04},{"i":20,"j":10,"v":0.04},{"i":21,"j":10,"v":0.04},{"i":22,"j":10,"v":0.04},{"i":23,"j":10,"v":0.04},{"i":24,"j":10,"v":0.04},{"i":25,"j":10,"v":0.04},{"i":26,"j":10,"v":0.04},{"i":27,"j":10,"v":0.042},{"i":28,"j":10,"v":0.044},{"i":29,"j":10,"v":0.044},{"i":30,"j":10,"v":0.044},{"i":31,"j":10,"v":0.044},{"i":32,"j":10,"v":0.045},{"i":33,"j":10,"v":0.045},{"i":34,"j":10,"v":0.046},{"i":35,"j":10,"v":0.047},
{"i":0,"j":11,"v":0.175},{"i":1,"j":11,"v":0.175},{"i":2,"j":11,"v":0.175},{"i":3,"j":11,"v":0.18},{"i":4,"j":11,"v":0.18},{"i":5,"j":11,"v":0.185},{"i":6,"j":11,"v":0.185},{"i":7,"j":11,"v":0.19},{"i":8,"j":11,"v":0.19},{"i":9,"j":11,"v":0.19},{"i":10,"j":11,"v":0.19},{"i":11,"j":11,"v":0.19},{"i":12,"j":11,"v":0.19},{"i":13,"j":11,"v":0.19},{"i":14,"j":11,"v":0.19},{"i":15,"j":11,"v":0.13},{"i":16,"j":11,"v":0.08},{"i":17,"j":11,"v":0.05},{"i":18,"j":11,"v":0.045},{"i":19,"j":11,"v":0.045},{"i":20,"j":11,"v":0.045},{"i":21,"j":11,"v":0.045},{"i":22,"j":11,"v":0.045},{"i":23,"j":11,"v":0.045},{"i":24,"j":11,"v":0.045},{"i":25,"j":11,"v":0.045},{"i":26,"j":11,"v":0.045},{"i":27,"j":11,"v":0.047},{"i":28,"j":11,"v":0.047},{"i":29,"j":11,"v":0.047},{"i":30,"j":11,"v":0.047},{"i":31,"j":11,"v":0.047},{"i":32,"j":11,"v":0.047},{"i":33,"j":11,"v":0.048},{"i":34,"j":11,"v":0.048},{"i":35,"j":11,"v":0.048},
{"i":0,"j":12,"v":0.168},{"i":1,"j":12,"v":0.168},{"i":2,"j":12,"v":0.168},{"i":3,"j":12,"v":0.17},{"i":4,"j":12,"v":0.17},{"i":5,"j":12,"v":0.17},{"i":6,"j":12,"v":0.17},{"i":7,"j":12,"v":0.175},{"i":8,"j":12,"v":0.175},{"i":9,"j":12,"v":0.175},{"i":10,"j":12,"v":0.175},{"i":11,"j":12,"v":0.175},{"i":12,"j":12,"v":0.18},{"i":13,"j":12,"v":0.18},{"i":14,"j":12,"v":0.18},{"i":15,"j":12,"v":0.13},{"i":16,"j":12,"v":0.09},{"i":17,"j":12,"v":0.06},{"i":18,"j":12,"v":0.055},{"i":19,"j":12,"v":0.055},{"i":20,"j":12,"v":0.055},{"i":21,"j":12,"v":0.055},{"i":22,"j":12,"v":0.055},{"i":23,"j":12,"v":0.055},{"i":24,"j":12,"v":0.055},{"i":25,"j":12,"v":0.055},{"i":26,"j":12,"v":0.055},{"i":27,"j":12,"v":0.055},{"i":28,"j":12,"v":0.055},{"i":29,"j":12,"v":0.055},{"i":30,"j":12,"v":0.055},{"i":31,"j":12,"v":0.055},{"i":32,"j":12,"v":0.055},{"i":33,"j":12,"v":0.055},{"i":34,"j":12,"v":0.055},{"i":35,"j":12,"v":0.055}],
"cellsE":[
{"i":0,"j":0,"v":0.28},{"i":1,"j":0,"v":0.21},{"i":2,"j":0,"v":0.3},{"i":3,"j":0,"v":0.24},{"i":4,"j":0,"v":0.3},{"i":5,"j":0,"v":0.27},{"i":6,"j":0,"v":0.3},{"i":7,"j":0,"v":0.07},{"i":8,"j":0,"v":0.19},{"i":9,"j":0,"v":0.23},{"i":10,"j":0,"v":0.05},{"i":11,"j":0,"v":0.3},{"i":12,"j":0,"v":0.28},{"i":13,"j":0,"v":0.3},{"i":14,"j":0,"v":0.11},{"i":15,"j":0,"v":0.13},{"i":16,"j":0,"v":0.27},{"i":17,"j":0,"v":0.05},{"i":18,"j":0,"v":0.2},{"i":19,"j":0,"v":0.05},{"i":20,"j":0,"v":0.2},{"i":21,"j":0,"v":0.11},{"i":22,"j":0,"v":0.18},{"i":23,"j":0,"v":0.13},{"i":24,"j":0,"v":0.2},{"i":25,"j":0,"v":0.29},{"i":26,"j":0,"v":0.3},{"i":27,"j":0,"v":0.3},{"i":28,"j":0,"v":0.05},{"i":29,"j":0,"v":0.05},{"i":30,"j":0,"v":0.22},{"i":31,"j":0,"v":0.1},{"i":32,"j":0,"v":0.17},{"i":33,"j":0,"v":0.24},{"i":34,"j":0,"v":0.16},{"i":35,"j":0,"v":0.2},
{"i":0,"j":1,"v":0.29},{"i":1,"j":1,"v":0.215},{"i":2,"j":1,"v":0.3},{"i":3,"j":1,"v":0.245},{"i":4,"j":1,"v":0.3},{"i":5,"j":1,"v":0.27},{"i":6,"j":1,"v":0.3},{"i":7,"j":1,"v":0.215},{"i":8,"j":1,"v":0.2},{"i":9,"j":1,"v":0.235},{"i":10,"j":1,"v":0.2},{"i":11,"j":1,"v":0.3},{"i":12,"j":1,"v":0.27},{"i":13,"j":1,"v":0.3},{"i":14,"j":1,"v":0.2},{"i":15,"j":1,"v":0.205},{"i":16,"j":1,"v":0.27},{"i":17,"j":1,"v":0.175},{"i":18,"j":1,"v":0.24},{"i":19,"j":1,"v":0.185},{"i":20,"j":1,"v":0.23},{"i":21,"j":1,"v":0.19},{"i":22,"j":1,"v":0.18},{"i":23,"j":1,"v":0.13},{"i":24,"j":1,"v":0.16},{"i":25,"j":1,"v":0.28},{"i":26,"j":1,"v":0.3},{"i":27,"j":1,"v":0.3},{"i":28,"j":1,"v":0.185},{"i":29,"j":1,"v":0.18},{"i":30,"j":1,"v":0.24},{"i":31,"j":1,"v":0.185},{"i":32,"j":1,"v":0.195},{"i":33,"j":1,"v":0.27},{"i":34,"j":1,"v":0.205},{"i":35,"j":1,"v":0.25},
{"i":0,"j":2,"v":0.285},{"i":1,"j":2,"v":0.235},{"i":2,"j":2,"v":0.3},{"i":3,"j":2,"v":0.245},{"i":4,"j":2,"v":0.3},{"i":5,"j":2,"v":0.27},{"i":6,"j":2,"v":0.3},{"i":7,"j":2,"v":0.235},{"i":8,"j":2,"v":0.225},{"i":9,"j":2,"v":0.23},{"i":10,"j":2,"v":0.22},{"i":11,"j":2,"v":0.3},{"i":12,"j":2,"v":0.27},{"i":13,"j":2,"v":0.3},{"i":14,"j":2,"v":0.225},{"i":15,"j":2,"v":0.215},{"i":16,"j":2,"v":0.25},{"i":17,"j":2,"v":0.19},{"i":18,"j":2,"v":0.235},{"i":19,"j":2,"v":0.195},{"i":20,"j":2,"v":0.21},{"i":21,"j":2,"v":0.195},{"i":22,"j":2,"v":0.185},{"i":23,"j":2,"v":0.135},{"i":24,"j":2,"v":0.16},{"i":25,"j":2,"v":0.27},{"i":26,"j":2,"v":0.3},{"i":27,"j":2,"v":0.29},{"i":28,"j":2,"v":0.19},{"i":29,"j":2,"v":0.19},{"i":30,"j":2,"v":0.23},{"i":31,"j":2,"v":0.19},{"i":32,"j":2,"v":0.2},{"i":33,"j":2,"v":0.26},{"i":34,"j":2,"v":0.21},{"i":35,"j":2,"v":0.235},
{"i":0,"j":3,"v":0.275},{"i":1,"j":3,"v":0.26},{"i":2,"j":3,"v":0.28},{"i":3,"j":3,"v":0.25},{"i":4,"j":3,"v":0.29},{"i":5,"j":3,"v":0.275},{"i":6,"j":3,"v":0.285},{"i":7,"j":3,"v":0.25},{"i":8,"j":3,"v":0.245},{"i":9,"j":3,"v":0.24},{"i":10,"j":3,"v":0.235},{"i":11,"j":3,"v":0.28},{"i":12,"j":3,"v":0.27},{"i":13,"j":3,"v":0.29},{"i":14,"j":3,"v":0.245},{"i":15,"j":3,"v":0.235},{"i":16,"j":3,"v":0.23},{"i":17,"j":3,"v":0.2},{"i":18,"j":3,"v":0.22},{"i":19,"j":3,"v":0.205},{"i":20,"j":3,"v":0.21},{"i":21,"j":3,"v":0.2},{"i":22,"j":3,"v":0.19},{"i":23,"j":3,"v":0.135},{"i":24,"j":3,"v":0.13},{"i":25,"j":3,"v":0.18},{"i":26,"j":3,"v":0.26},{"i":27,"j":3,"v":0.28},{"i":28,"j":3,"v":0.2},{"i":29,"j":3,"v":0.2},{"i":30,"j":3,"v":0.22},{"i":31,"j":3,"v":0.2},{"i":32,"j":3,"v":0.205},{"i":33,"j":3,"v":0.24},{"i":34,"j":3,"v":0.21},{"i":35,"j":3,"v":0.22},
{"i":0,"j":4,"v":0.265},{"i":1,"j":4,"v":0.255},{"i":2,"j":4,"v":0.265},{"i":3,"j":4,"v":0.255},{"i":4,"j":4,"v":0.28},{"i":5,"j":4,"v":0.275},{"i":6,"j":4,"v":0.275},{"i":7,"j":4,"v":0.255},{"i":8,"j":4,"v":0.25},{"i":9,"j":4,"v":0.245},{"i":10,"j":4,"v":0.245},{"i":11,"j":4,"v":0.265},{"i":12,"j":4,"v":0.265},{"i":13,"j":4,"v":0.28},{"i":14,"j":4,"v":0.25},{"i":15,"j":4,"v":0.24},{"i":16,"j":4,"v":0.23},{"i":17,"j":4,"v":0.21},{"i":18,"j":4,"v":0.215},{"i":19,"j":4,"v":0.21},{"i":20,"j":4,"v":0.205},{"i":21,"j":4,"v":0.205},{"i":22,"j":4,"v":0.19},{"i":23,"j":4,"v":0.135},{"i":24,"j":4,"v":0.125},{"i":25,"j":4,"v":0.13},{"i":26,"j":4,"v":0.2},{"i":27,"j":4,"v":0.26},{"i":28,"j":4,"v":0.2},{"i":29,"j":4,"v":0.2},{"i":30,"j":4,"v":0.215},{"i":31,"j":4,"v":0.2},{"i":32,"j":4,"v":0.205},{"i":33,"j":4,"v":0.225},{"i":34,"j":4,"v":0.21},{"i":35,"j":4,"v":0.215},
{"i":0,"j":5,"v":0.245},{"i":1,"j":5,"v":0.24},{"i":2,"j":5,"v":0.245},{"i":3,"j":5,"v":0.245},{"i":4,"j":5,"v":0.265},{"i":5,"j":5,"v":0.265},{"i":6,"j":5,"v":0.265},{"i":7,"j":5,"v":0.25},{"i":8,"j":5,"v":0.245},{"i":9,"j":5,"v":0.245},{"i":10,"j":5,"v":0.245},{"i":11,"j":5,"v":0.255},{"i":12,"j":5,"v":0.26},{"i":13,"j":5,"v":0.265},{"i":14,"j":5,"v":0.25},{"i":15,"j":5,"v":0.24},{"i":16,"j":5,"v":0.235},{"i":17,"j":5,"v":0.22},{"i":18,"j":5,"v":0.215},{"i":19,"j":5,"v":0.21},{"i":20,"j":5,"v":0.21},{"i":21,"j":5,"v":0.205},{"i":22,"j":5,"v":0.19},{"i":23,"j":5,"v":0.15},{"i":24,"j":5,"v":0.125},{"i":25,"j":5,"v":0.125},{"i":26,"j":5,"v":0.14},{"i":27,"j":5,"v":0.2},{"i":28,"j":5,"v":0.19},{"i":29,"j":5,"v":0.195},{"i":30,"j":5,"v":0.2},{"i":31,"j":5,"v":0.195},{"i":32,"j":5,"v":0.2},{"i":33,"j":5,"v":0.205},{"i":34,"j":5,"v":0.2},{"i":35,"j":5,"v":0.2},
{"i":0,"j":6,"v":0.23},{"i":1,"j":6,"v":0.23},{"i":2,"j":6,"v":0.23},{"i":3,"j":6,"v":0.235},{"i":4,"j":6,"v":0.25},{"i":5,"j":6,"v":0.25},{"i":6,"j":6,"v":0.25},{"i":7,"j":6,"v":0.245},{"i":8,"j":6,"v":0.24},{"i":9,"j":6,"v":0.24},{"i":10,"j":6,"v":0.24},{"i":11,"j":6,"v":0.245},{"i":12,"j":6,"v":0.25},{"i":13,"j":6,"v":0.255},{"i":14,"j":6,"v":0.245},{"i":15,"j":6,"v":0.24},{"i":16,"j":6,"v":0.235},{"i":17,"j":6,"v":0.22},{"i":18,"j":6,"v":0.215},{"i":19,"j":6,"v":0.21},{"i":20,"j":6,"v":0.205},{"i":21,"j":6,"v":0.2},{"i":22,"j":6,"v":0.19},{"i":23,"j":6,"v":0.17},{"i":24,"j":6,"v":0.14},{"i":25,"j":6,"v":0.125},{"i":26,"j":6,"v":0.125},{"i":27,"j":6,"v":0.135},{"i":28,"j":6,"v":0.155},{"i":29,"j":6,"v":0.175},{"i":30,"j":6,"v":0.19},{"i":31,"j":6,"v":0.185},{"i":32,"j":6,"v":0.19},{"i":33,"j":6,"v":0.19},{"i":34,"j":6,"v":0.185},{"i":35,"j":6,"v":0.19},
{"i":0,"j":7,"v":0.22},{"i":1,"j":7,"v":0.22},{"i":2,"j":7,"v":0.22},{"i":3,"j":7,"v":0.23},{"i":4,"j":7,"v":0.235},{"i":5,"j":7,"v":0.24},{"i":6,"j":7,"v":0.24},{"i":7,"j":7,"v":0.24},{"i":8,"j":7,"v":0.24},{"i":9,"j":7,"v":0.24},{"i":10,"j":7,"v":0.24},{"i":11,"j":7,"v":0.24},{"i":12,"j":7,"v":0.24},{"i":13,"j":7,"v":0.245},{"i":14,"j":7,"v":0.24},{"i":15,"j":7,"v":0.235},{"i":16,"j":7,"v":0.23},{"i":17,"j":7,"v":0.22},{"i":18,"j":7,"v":0.215},{"i":19,"j":7,"v":0.21},{"i":20,"j":7,"v":0.205},{"i":21,"j":7,"v":0.2},{"i":22,"j":7,"v":0.19},{"i":23,"j":7,"v":0.18},{"i":24,"j":7,"v":0.16},{"i":25,"j":7,"v":0.145},{"i":26,"j":7,"v":0.14},{"i":27,"j":7,"v":0.135},{"i":28,"j":7,"v":0.145},{"i":29,"j":7,"v":0.16},{"i":30,"j":7,"v":0.17},{"i":31,"j":7,"v":0.175},{"i":32,"j":7,"v":0.175},{"i":33,"j":7,"v":0.175},{"i":34,"j":7,"v":0.175},{"i":35,"j":7,"v":0.175},
{"i":0,"j":8,"v":0.21},{"i":1,"j":8,"v":0.21},{"i":2,"j":8,"v":0.21},{"i":3,"j":8,"v":0.215},{"i":4,"j":8,"v":0.22},{"i":5,"j":8,"v":0.225},{"i":6,"j":8,"v":0.225},{"i":7,"j":8,"v":0.23},{"i":8,"j":8,"v":0.23},{"i":9,"j":8,"v":0.23},{"i":10,"j":8,"v":0.23},{"i":11,"j":8,"v":0.23},{"i":12,"j":8,"v":0.235},{"i":13,"j":8,"v":0.235},{"i":14,"j":8,"v":0.23},{"i":15,"j":8,"v":0.23},{"i":16,"j":8,"v":0.225},{"i":17,"j":8,"v":0.22},{"i":18,"j":8,"v":0.215},{"i":19,"j":8,"v":0.21},{"i":20,"j":8,"v":0.205},{"i":21,"j":8,"v":0.2},{"i":22,"j":8,"v":0.19},{"i":23,"j":8,"v":0.185},{"i":24,"j":8,"v":0.175},{"i":25,"j":8,"v":0.165},{"i":26,"j":8,"v":0.165},{"i":27,"j":8,"v":0.165},{"i":28,"j":8,"v":0.165},{"i":29,"j":8,"v":0.17},{"i":30,"j":8,"v":0.17},{"i":31,"j":8,"v":0.17},{"i":32,"j":8,"v":0.17},{"i":33,"j":8,"v":0.17},{"i":34,"j":8,"v":0.17},{"i":35,"j":8,"v":0.175},
{"i":0,"j":9,"v":0.2},{"i":1,"j":9,"v":0.2},{"i":2,"j":9,"v":0.2},{"i":3,"j":9,"v":0.205},{"i":4,"j":9,"v":0.21},{"i":5,"j":9,"v":0.21},{"i":6,"j":9,"v":0.21},{"i":7,"j":9,"v":0.215},{"i":8,"j":9,"v":0.215},{"i":9,"j":9,"v":0.22},{"i":10,"j":9,"v":0.22},{"i":11,"j":9,"v":0.22},{"i":12,"j":9,"v":0.22},{"i":13,"j":9,"v":0.225},{"i":14,"j":9,"v":0.22},{"i":15,"j":9,"v":0.22},{"i":16,"j":9,"v":0.215},{"i":17,"j":9,"v":0.215},{"i":18,"j":9,"v":0.21},{"i":19,"j":9,"v":0.205},{"i":20,"j":9,"v":0.205},{"i":21,"j":9,"v":0.2},{"i":22,"j":9,"v":0.195},{"i":23,"j":9,"v":0.19},{"i":24,"j":9,"v":0.185},{"i":25,"j":9,"v":0.18},{"i":26,"j":9,"v":0.18},{"i":27,"j":9,"v":0.175},{"i":28,"j":9,"v":0.175},{"i":29,"j":9,"v":0.175},{"i":30,"j":9,"v":0.175},{"i":31,"j":9,"v":0.175},{"i":32,"j":9,"v":0.175},{"i":33,"j":9,"v":0.175},{"i":34,"j":9,"v":0.175},{"i":35,"j":9,"v":0.18},
{"i":0,"j":10,"v":0.19},{"i":1,"j":10,"v":0.19},{"i":2,"j":10,"v":0.19},{"i":3,"j":10,"v":0.195},{"i":4,"j":10,"v":0.2},{"i":5,"j":10,"v":0.2},{"i":6,"j":10,"v":0.2},{"i":7,"j":10,"v":0.205},{"i":8,"j":10,"v":0.205},{"i":9,"j":10,"v":0.205},{"i":10,"j":10,"v":0.21},{"i":11,"j":10,"v":0.21},{"i":12,"j":10,"v":0.21},{"i":13,"j":10,"v":0.21},{"i":14,"j":10,"v":0.21},{"i":15,"j":10,"v":0.21},{"i":16,"j":10,"v":0.205},{"i":17,"j":10,"v":0.205},{"i":18,"j":10,"v":0.205},{"i":19,"j":10,"v":0.2},{"i":20,"j":10,"v":0.2},{"i":21,"j":10,"v":0.195},{"i":22,"j":10,"v":0.195},{"i":23,"j":10,"v":0.19},{"i":24,"j":10,"v":0.19},{"i":25,"j":10,"v":0.185},{"i":26,"j":10,"v":0.185},{"i":27,"j":10,"v":0.185},{"i":28,"j":10,"v":0.18},{"i":29,"j":10,"v":0.18},{"i":30,"j":10,"v":0.18},{"i":31,"j":10,"v":0.18},{"i":32,"j":10,"v":0.18},{"i":33,"j":10,"v":0.18},{"i":34,"j":10,"v":0.18},{"i":35,"j":10,"v":0.185},
{"i":0,"j":11,"v":0.18},{"i":1,"j":11,"v":0.18},{"i":2,"j":11,"v":0.18},{"i":3,"j":11,"v":0.185},{"i":4,"j":11,"v":0.185},{"i":5,"j":11,"v":0.19},{"i":6,"j":11,"v":0.19},{"i":7,"j":11,"v":0.195},{"i":8,"j":11,"v":0.195},{"i":9,"j":11,"v":0.195},{"i":10,"j":11,"v":0.195},{"i":11,"j":11,"v":0.195},{"i":12,"j":11,"v":0.195},{"i":13,"j":11,"v":0.195},{"i":14,"j":11,"v":0.195},{"i":15,"j":11,"v":0.195},{"i":16,"j":11,"v":0.195},{"i":17,"j":11,"v":0.195},{"i":18,"j":11,"v":0.195},{"i":19,"j":11,"v":0.195},{"i":20,"j":11,"v":0.19},{"i":21,"j":11,"v":0.19},{"i":22,"j":11,"v":0.19},{"i":23,"j":11,"v":0.19},{"i":24,"j":11,"v":0.185},{"i":25,"j":11,"v":0.185},{"i":26,"j":11,"v":0.185},{"i":27,"j":11,"v":0.185},{"i":28,"j":11,"v":0.18},{"i":29,"j":11,"v":0.18},{"i":30,"j":11,"v":0.18},{"i":31,"j":11,"v":0.18},{"i":32,"j":11,"v":0.18},{"i":33,"j":11,"v":0.18},{"i":34,"j":11,"v":0.18},{"i":35,"j":11,"v":0.18},
{"i":0,"j":12,"v":0.17},{"i":1,"j":12,"v":0.17},{"i":2,"j":12,"v":0.17},{"i":3,"j":12,"v":0.175},{"i":4,"j":12,"v":0.175},{"i":5,"j":12,"v":0.175},{"i":6,"j":12,"v":0.175},{"i":7,"j":12,"v":0.18},{"i":8,"j":12,"v":0.18},{"i":9,"j":12,"v":0.18},{"i":10,"j":12,"v":0.18},{"i":11,"j":12,"v":0.18},{"i":12,"j":12,"v":0.18},{"i":13,"j":12,"v":0.18},{"i":14,"j":12,"v":0.18},{"i":15,"j":12,"v":0.185},{"i":16,"j":12,"v":0.185},{"i":17,"j":12,"v":0.185},{"i":18,"j":12,"v":0.185},{"i":19,"j":12,"v":0.185},{"i":20,"j":12,"v":0.18},{"i":21,"j":12,"v":0.18},{"i":22,"j":12,"v":0.18},{"i":23,"j":12,"v":0.18},{"i":24,"j":12,"v":0.18},{"i":25,"j":12,"v":0.175},{"i":26,"j":12,"v":0.175},{"i":27,"j":12,"v":0.175},{"i":28,"j":12,"v":0.175},{"i":29,"j":12,"v":0.175},{"i":30,"j":12,"v":0.175},{"i":31,"j":12,"v":0.175},{"i":32,"j":12,"v":0.175},{"i":33,"j":12,"v":0.175},{"i":34,"j":12,"v":0.175},{"i":35,"j":12,"v":0.175}]
},
"concat":[
{"width":1286,"height":727,"title":{"text":"Soil Moisture Assimilation Point 1 2006","frame":"group","fontSize":35.7,"fontWeight":"normal","font":"Liberation Sans","color":"#000","offset":-51,"dx":-5},
"layer":[
{"data":{"name":"cellsB"},"transform":[{"lookup":"i","from":{"data":{"name":"colsB"},"key":"i","fields":["t0","t1"]}},{"lookup":"j","from":{"data":{"name":"rowsB"},"key":"j","fields":["d0","d1"]}}],"mark":"rect","encoding":{
"x":{"field":"t0","type":"quantitative","scale":{"domain":[0,8771],"nice":false,"zero":false,"round":true},"axis":{"zindex":1,"orient":"bottom","title":"time (hours since 2006-01-01 00:00:00)","values":[0,731,1462,2193,2924,3655,4386,5117,5847,6578,7309,8040,8771],"labelExpr":"round(datum.value/731)%2==0?''+datum.value:''","labelPadding":23,"titlePadding":8,"grid":true,"gridOpacity":{"condition":{"test":"round(datum.value/731)%2==0","value":1},"value":0}}},"x2":{"field":"t1"},
"y":{"field":"d0","type":"quantitative","scale":{"domain":[0,11.5],"reverse":true,"nice":false,"zero":false,"round":true},"axis":{"zindex":1,"orient":"left","title":"depth of soil layers (m)","values":[0,0.5227,1.0455,1.5682,2.0909,2.6136,3.1364,3.6591,4.1818,4.7045,5.2273,5.75,6.2727,6.7955,7.3182,7.8409,8.3636,8.8864,9.4091,9.9318,10.4545,10.9773,11.5],"labelExpr":"datum.value==0?'-0,0':(round(datum.value/0.52273)%2==0?replace(format(datum.value,'.1f'),'.',','):'')","labelPadding":13,"labelOffset":7,"titlePadding":5,"grid":true,"gridOpacity":{"condition":{"test":"round(datum.value/0.52273)%2==0","value":1},"value":0}}},"y2":{"field":"d1"},
"color":{"field":"v","type":"quantitative","legend":null,"scale":{"domain":[0,0.047,0.0855,0.12,0.1425,0.159,0.192,0.225,0.258,0.279,0.3],"range":["#7f0000","#ff0000","#ffab00","#fff000","#ffff66","#ccffff","#99e9ff","#80ccff","#3a85ff","#1f55f0","#0000c0"],"clamp":true}}}},
{"data":{"values":[{"letter":"b"}]},"mark":{"type":"text","align":"left","baseline":"alphabetic","fontSize":94,"color":"#231f20","text":"b"},"encoding":{
"x":{"datum":-525,"type":"quantitative","scale":{"domain":[0,8771],"nice":false,"zero":false,"round":true},"axis":{"zindex":1,"orient":"top","title":null,"labels":false,"values":[0,731,1462,2193,2924,3655,4386,5117,5847,6578,7309,8040,8771]}},
"y":{"datum":-0.14,"type":"quantitative","scale":{"domain":[0,11.5],"reverse":true,"nice":false,"zero":false,"round":true},"axis":{"zindex":1,"orient":"right","title":null,"labels":false,"values":[0,0.5227,1.0455,1.5682,2.0909,2.6136,3.1364,3.6591,4.1818,4.7045,5.2273,5.75,6.2727,6.7955,7.3182,7.8409,8.3636,8.8864,9.4091,9.9318,10.4545,10.9773,11.5]}}}}],
"resolve":{"axis":{"x":"independent","y":"independent"}}},
{"width":1284,"height":727,"title":{"text":"Soil moisture Assimilation-Free Point 1 2006","frame":"group","fontSize":35.7,"fontWeight":"normal","font":"Liberation Sans","color":"#000","offset":-51,"dx":-2},
"layer":[
{"data":{"name":"cellsC"},"mark":"rect","encoding":{
"x":{"field":"t0","type":"quantitative","scale":{"domain":[11,8771],"nice":false,"zero":false,"round":true},"axis":{"zindex":1,"orient":"bottom","title":"time (hours since 2006-01-01 00:00:00)","values":[11,741,1471,2201,2931,3661,4391,5121,5851,6581,7311,8041,8771],"labelExpr":"round((datum.value-11)/730)%2==0?''+datum.value:''","labelPadding":23,"titlePadding":8,"grid":true,"gridOpacity":{"condition":{"test":"round((datum.value-11)/730)%2==0","value":1},"value":0}}},"x2":{"field":"t1"},
"y":{"field":"d0","type":"quantitative","scale":{"domain":[0,11.5],"reverse":true,"nice":false,"zero":false,"round":true},"axis":{"zindex":1,"orient":"left","title":"depth of soil layers (m)","values":[0,0.5227,1.0455,1.5682,2.0909,2.6136,3.1364,3.6591,4.1818,4.7045,5.2273,5.75,6.2727,6.7955,7.3182,7.8409,8.3636,8.8864,9.4091,9.9318,10.4545,10.9773,11.5],"labelExpr":"round(datum.value/0.52273)%2==0?replace(format(datum.value,'.1f'),'.',','):''","labelPadding":13,"labelOffset":7,"titlePadding":5,"grid":true,"gridOpacity":{"condition":{"test":"round(datum.value/0.52273)%2==0","value":1},"value":0}}},"y2":{"field":"d1"},
"color":{"field":"v","type":"quantitative","legend":null,"scale":{"domain":[-0.11,-0.0704,-0.0528,-0.03,-0.0143,0,0.01,0.025,0.0495,0.0704,0.11],"range":["#ad0000","#d9650f","#ee9a1f","#ffe640","#f0e6a0","#e8e8e8","#c0cde0","#6d96cf","#3b64a8","#1f4585","#00204f"],"clamp":true}}}},
{"data":{"values":[{"letter":"c"}]},"mark":{"type":"text","align":"left","baseline":"alphabetic","fontSize":94,"color":"#231f20","text":"c"},"encoding":{
"x":{"datum":-562,"type":"quantitative","scale":{"domain":[11,8771],"nice":false,"zero":false,"round":true},"axis":{"zindex":1,"orient":"top","title":null,"labels":false,"values":[11,741,1471,2201,2931,3661,4391,5121,5851,6581,7311,8041,8771]}},
"y":{"datum":-0.14,"type":"quantitative","scale":{"domain":[0,11.5],"reverse":true,"nice":false,"zero":false,"round":true},"axis":{"zindex":1,"orient":"right","title":null,"labels":false,"values":[0,0.5227,1.0455,1.5682,2.0909,2.6136,3.1364,3.6591,4.1818,4.7045,5.2273,5.75,6.2727,6.7955,7.3182,7.8409,8.3636,8.8864,9.4091,9.9318,10.4545,10.9773,11.5]}}}}],
"resolve":{"axis":{"x":"independent","y":"independent"}}},
{"width":1,"height":1,"view":{"stroke":null},"data":{"values":[{"gap":1}]},"mark":{"type":"text","text":""},"encoding":{}},
{"width":1286,"height":31,"view":{"stroke":null},"title":{"text":"Soil moisture content (water+ice) in soil layers (fraction)","frame":"group","fontSize":32,"fontWeight":"normal","font":"Liberation Sans","color":"#000","offset":3},
"layer":[
{"data":{"values":[{"v0":0,"v1":0.3}]},"mark":{"type":"rect","stroke":"#333","strokeWidth":2,"color":{"gradient":"linear","x1":0,"y1":0,"x2":1,"y2":0,"stops":[{"offset":0,"color":"#7f0000"},{"offset":0.157,"color":"#ff0000"},{"offset":0.285,"color":"#ffab00"},{"offset":0.4,"color":"#fff000"},{"offset":0.475,"color":"#ffff66"},{"offset":0.53,"color":"#ccffff"},{"offset":0.64,"color":"#99e9ff"},{"offset":0.75,"color":"#80ccff"},{"offset":0.86,"color":"#3a85ff"},{"offset":0.93,"color":"#1f55f0"},{"offset":1,"color":"#0000c0"}]}},"encoding":{"x":{"field":"v0","type":"quantitative","scale":{"domain":[-0.06723,0.36723],"nice":false,"zero":false},"axis":{"zindex":1,"grid":false,"title":"Data Min = 0,04, Max = 0,40","titleFontSize":17.8,"titlePadding":18,"labelFontSize":22,"labelPadding":15,"domain":false,"tickSize":-7,"values":[0,0.02143,0.04286,0.06429,0.08571,0.10714,0.12857,0.15,0.17143,0.19286,0.21429,0.23571,0.25714,0.27857,0.3],"labelExpr":"round(datum.value/0.3*14)%2==0?replace(format(datum.value,'.2f'),'.',','):''"}},"x2":{"field":"v1"}}},
{"data":{"values":[{"x":-0.0095}]},"mark":{"type":"point","shape":"M1,-1L-1,0L1,1Z","filled":true,"size":900,"stroke":"#222","strokeWidth":1,"opacity":1,"color":"#7f0000"},"encoding":{"x":{"field":"x","type":"quantitative"}}},
{"data":{"values":[{"x":0.3095}]},"mark":{"type":"point","shape":"M-1,-1L1,0L-1,1Z","filled":true,"size":900,"stroke":"#222","strokeWidth":1,"opacity":1,"color":"#0000c0"},"encoding":{"x":{"field":"x","type":"quantitative"}}}]},
{"width":1284,"height":31,"view":{"stroke":null},"title":{"text":"Soil moisture content (water+ice) in soil layers (fraction)","frame":"group","fontSize":32,"fontWeight":"normal","font":"Liberation Sans","color":"#000","offset":3},
"layer":[
{"data":{"values":[{"v0":-0.11,"v1":0.11}]},"mark":{"type":"rect","stroke":"#111","strokeWidth":2,"color":{"gradient":"linear","x1":0,"y1":0,"x2":1,"y2":0,"stops":[{"offset":0,"color":"#ad0000"},{"offset":0.18,"color":"#d9650f"},{"offset":0.26,"color":"#ee9a1f"},{"offset":0.364,"color":"#ffe640"},{"offset":0.435,"color":"#f0e6a0"},{"offset":0.5,"color":"#e8e8e8"},{"offset":0.545,"color":"#c0cde0"},{"offset":0.614,"color":"#6d96cf"},{"offset":0.725,"color":"#3b64a8"},{"offset":0.82,"color":"#1f4585"},{"offset":1,"color":"#00204f"}]}},"encoding":{"x":{"field":"v0","type":"quantitative","scale":{"domain":[-0.15905,0.15905],"nice":false,"zero":false},"axis":{"zindex":1,"grid":false,"title":"Data Min = -0,23, Max = 0,03","titleFontSize":17.8,"titlePadding":18,"labelFontSize":22,"labelPadding":15,"domain":false,"tickSize":-7,"values":[-0.11,-0.1,-0.09,-0.08,-0.07,-0.06,-0.05,-0.04,-0.03,-0.02,-0.01,0,0.01,0.02,0.03,0.04,0.05,0.06,0.07,0.08,0.09,0.1,0.11],"labelExpr":"round((datum.value+0.11)/0.01)%2==0?replace(format(datum.value,'.2f'),'.',','):''"}},"x2":{"field":"v1"}}},
{"data":{"values":[{"x":-0.1169}]},"mark":{"type":"point","shape":"M1,-1L-1,0L1,1Z","filled":true,"size":900,"stroke":"#222","strokeWidth":1,"opacity":1,"color":"#ad0000"},"encoding":{"x":{"field":"x","type":"quantitative"}}},
{"data":{"values":[{"x":0.1169}]},"mark":{"type":"point","shape":"M-1,-1L1,0L-1,1Z","filled":true,"size":900,"stroke":"#222","strokeWidth":1,"opacity":1,"color":"#00204f"},"encoding":{"x":{"field":"x","type":"quantitative"}}}]},
{"width":1,"height":1,"view":{"stroke":null},"data":{"values":[{"gap":1}]},"mark":{"type":"text","text":""},"encoding":{}},
{"width":1,"height":7,"view":{"stroke":null},"data":{"values":[{"gap":1}]},"mark":{"type":"text","text":""},"encoding":{}},
{"width":1,"height":7,"view":{"stroke":null},"data":{"values":[{"gap":1}]},"mark":{"type":"text","text":""},"encoding":{}},
{"width":1,"height":1,"view":{"stroke":null},"data":{"values":[{"gap":1}]},"mark":{"type":"text","text":""},"encoding":{}},
{"width":1297,"height":733,"title":{"text":"Soil Moisture Assimilation Point 2 2006","frame":"group","fontSize":35.7,"fontWeight":"normal","font":"Liberation Sans","color":"#000","offset":-44,"dx":-5},
"layer":[
{"data":{"name":"cellsD"},"transform":[{"lookup":"i","from":{"data":{"name":"colsDE"},"key":"i","fields":["t0","t1"]}},{"lookup":"j","from":{"data":{"name":"rowsDE"},"key":"j","fields":["d0","d1"]}}],"mark":"rect","encoding":{
"x":{"field":"t0","type":"quantitative","scale":{"domain":[0,8771],"nice":false,"zero":false,"round":true},"axis":{"zindex":1,"orient":"bottom","title":"time (hours since 2006-01-01 00:00:00)","values":[0,731,1462,2193,2924,3655,4386,5117,5847,6578,7309,8040,8771],"labelExpr":"round(datum.value/731)%2==0?''+datum.value:''","labelPadding":23,"titlePadding":8,"grid":true,"gridOpacity":{"condition":{"test":"round(datum.value/731)%2==0","value":1},"value":0}}},"x2":{"field":"t1"},
"y":{"field":"d0","type":"quantitative","scale":{"domain":[0,2],"reverse":true,"nice":false,"zero":false,"round":true},"axis":{"zindex":1,"orient":"left","title":"depth of soil layers (m)","values":[0,0.1111,0.2222,0.3333,0.4444,0.5556,0.6667,0.7778,0.8889,1,1.1111,1.2222,1.3333,1.4444,1.5556,1.6667,1.7778,1.8889,2],"labelExpr":"round(datum.value/0.11111)%2==0?replace(format(datum.value,'.1f'),'.',','):''","labelPadding":13,"labelOffset":7,"titlePadding":5,"grid":true,"gridOpacity":{"condition":{"test":"round(datum.value/0.11111)%2==0","value":1},"value":0}}},"y2":{"field":"d1"},
"color":{"field":"v","type":"quantitative","legend":null,"scale":{"domain":[0,0.047,0.0855,0.12,0.1425,0.159,0.192,0.225,0.258,0.279,0.3],"range":["#7f0000","#ff0000","#ffab00","#fff000","#ffff66","#ccffff","#99e9ff","#80ccff","#3a85ff","#1f55f0","#0000c0"],"clamp":true}}}},
{"data":{"values":[{"letter":"d"}]},"mark":{"type":"text","align":"left","baseline":"alphabetic","fontSize":94,"color":"#231f20","text":"d"},"encoding":{
"x":{"datum":-514,"type":"quantitative","scale":{"domain":[0,8771],"nice":false,"zero":false,"round":true},"axis":{"zindex":1,"orient":"top","title":null,"labels":false,"values":[0,731,1462,2193,2924,3655,4386,5117,5847,6578,7309,8040,8771]}},
"y":{"datum":-0.014,"type":"quantitative","scale":{"domain":[0,2],"reverse":true,"nice":false,"zero":false,"round":true},"axis":{"zindex":1,"orient":"right","title":null,"labels":false,"values":[0,0.1111,0.2222,0.3333,0.4444,0.5556,0.6667,0.7778,0.8889,1,1.1111,1.2222,1.3333,1.4444,1.5556,1.6667,1.7778,1.8889,2]}}}}],
"resolve":{"axis":{"x":"independent","y":"independent"}}},
{"width":1293,"height":733,"title":{"text":"Soil Moisture Free Point 2 2006","frame":"group","fontSize":35.7,"fontWeight":"normal","font":"Liberation Sans","color":"#000","offset":-44,"dx":1},
"layer":[
{"data":{"name":"cellsE"},"transform":[{"lookup":"i","from":{"data":{"name":"colsDE"},"key":"i","fields":["t0","t1"]}},{"lookup":"j","from":{"data":{"name":"rowsDE"},"key":"j","fields":["d0","d1"]}}],"mark":"rect","encoding":{
"x":{"field":"t0","type":"quantitative","scale":{"domain":[0,8771],"nice":false,"zero":false,"round":true},"axis":{"zindex":1,"orient":"bottom","title":"time (hours since 2006-01-01 00:00:00)","values":[0,731,1462,2193,2924,3655,4386,5117,5847,6578,7309,8040,8771],"labelExpr":"round(datum.value/731)%2==0?''+datum.value:''","labelPadding":23,"titlePadding":8,"grid":true,"gridOpacity":{"condition":{"test":"round(datum.value/731)%2==0","value":1},"value":0}}},"x2":{"field":"t1"},
"y":{"field":"d0","type":"quantitative","scale":{"domain":[0,2],"reverse":true,"nice":false,"zero":false,"round":true},"axis":{"zindex":1,"orient":"left","title":"depth of soil layers (m)","values":[0,0.1111,0.2222,0.3333,0.4444,0.5556,0.6667,0.7778,0.8889,1,1.1111,1.2222,1.3333,1.4444,1.5556,1.6667,1.7778,1.8889,2],"labelExpr":"round(datum.value/0.11111)%2==0?replace(format(datum.value,'.1f'),'.',','):''","labelPadding":13,"labelOffset":7,"titlePadding":5,"grid":true,"gridOpacity":{"condition":{"test":"round(datum.value/0.11111)%2==0","value":1},"value":0}}},"y2":{"field":"d1"},
"color":{"field":"v","type":"quantitative","legend":null,"scale":{"domain":[0,0.047,0.0855,0.12,0.1425,0.159,0.192,0.225,0.258,0.279,0.3],"range":["#7f0000","#ff0000","#ffab00","#fff000","#ffff66","#ccffff","#99e9ff","#80ccff","#3a85ff","#1f55f0","#0000c0"],"clamp":true}}}},
{"data":{"values":[{"letter":"e"}]},"mark":{"type":"text","align":"left","baseline":"alphabetic","fontSize":94,"color":"#231f20","text":"e"},"encoding":{
"x":{"datum":-536,"type":"quantitative","scale":{"domain":[0,8771],"nice":false,"zero":false,"round":true},"axis":{"zindex":1,"orient":"top","title":null,"labels":false,"values":[0,731,1462,2193,2924,3655,4386,5117,5847,6578,7309,8040,8771]}},
"y":{"datum":-0.014,"type":"quantitative","scale":{"domain":[0,2],"reverse":true,"nice":false,"zero":false,"round":true},"axis":{"zindex":1,"orient":"right","title":null,"labels":false,"values":[0,0.1111,0.2222,0.3333,0.4444,0.5556,0.6667,0.7778,0.8889,1,1.1111,1.2222,1.3333,1.4444,1.5556,1.6667,1.7778,1.8889,2]}}}}],
"resolve":{"axis":{"x":"independent","y":"independent"}}},
{"width":1,"height":1,"view":{"stroke":null},"data":{"values":[{"gap":1}]},"mark":{"type":"text","text":""},"encoding":{}},
{"width":1297,"height":33,"view":{"stroke":null},"title":{"text":"Soil moisture content (water+ice) in soil layers (fraction)","frame":"group","fontSize":32,"fontWeight":"normal","font":"Liberation Sans","color":"#000","offset":3},
"layer":[
{"data":{"values":[{"v0":0,"v1":0.3}]},"mark":{"type":"rect","stroke":"#333","strokeWidth":2,"color":{"gradient":"linear","x1":0,"y1":0,"x2":1,"y2":0,"stops":[{"offset":0,"color":"#7f0000"},{"offset":0.157,"color":"#ff0000"},{"offset":0.285,"color":"#ffab00"},{"offset":0.4,"color":"#fff000"},{"offset":0.475,"color":"#ffff66"},{"offset":0.53,"color":"#ccffff"},{"offset":0.64,"color":"#99e9ff"},{"offset":0.75,"color":"#80ccff"},{"offset":0.86,"color":"#3a85ff"},{"offset":0.93,"color":"#1f55f0"},{"offset":1,"color":"#0000c0"}]}},"encoding":{"x":{"field":"v0","type":"quantitative","scale":{"domain":[-0.06689,0.36689],"nice":false,"zero":false},"axis":{"zindex":1,"grid":false,"title":"Data Min = 0,03, Max = 0,34","titleFontSize":17.8,"titlePadding":18,"labelFontSize":22,"labelPadding":15,"domain":false,"tickSize":-7,"values":[0,0.02143,0.04286,0.06429,0.08571,0.10714,0.12857,0.15,0.17143,0.19286,0.21429,0.23571,0.25714,0.27857,0.3],"labelExpr":"round(datum.value/0.3*14)%2==0?replace(format(datum.value,'.2f'),'.',','):''"}},"x2":{"field":"v1"}}},
{"data":{"values":[{"x":-0.0097}]},"mark":{"type":"point","shape":"M1,-1L-1,0L1,1Z","filled":true,"size":900,"stroke":"#222","strokeWidth":1,"opacity":1,"color":"#7f0000"},"encoding":{"x":{"field":"x","type":"quantitative"}}},
{"data":{"values":[{"x":0.3097}]},"mark":{"type":"point","shape":"M-1,-1L1,0L-1,1Z","filled":true,"size":900,"stroke":"#222","strokeWidth":1,"opacity":1,"color":"#0000c0"},"encoding":{"x":{"field":"x","type":"quantitative"}}}]},
{"width":1293,"height":33,"view":{"stroke":null},"title":{"text":"Soil moisture content (water+ice) in soil layers (fraction)","frame":"group","fontSize":32,"fontWeight":"normal","font":"Liberation Sans","color":"#000","offset":3},
"layer":[
{"data":{"values":[{"v0":0,"v1":0.3}]},"mark":{"type":"rect","stroke":"#333","strokeWidth":2,"color":{"gradient":"linear","x1":0,"y1":0,"x2":1,"y2":0,"stops":[{"offset":0,"color":"#7f0000"},{"offset":0.157,"color":"#ff0000"},{"offset":0.285,"color":"#ffab00"},{"offset":0.4,"color":"#fff000"},{"offset":0.475,"color":"#ffff66"},{"offset":0.53,"color":"#ccffff"},{"offset":0.64,"color":"#99e9ff"},{"offset":0.75,"color":"#80ccff"},{"offset":0.86,"color":"#3a85ff"},{"offset":0.93,"color":"#1f55f0"},{"offset":1,"color":"#0000c0"}]}},"encoding":{"x":{"field":"v0","type":"quantitative","scale":{"domain":[-0.0667,0.3667],"nice":false,"zero":false},"axis":{"zindex":1,"grid":false,"title":"Data Min = 0,03, Max = 0,34","titleFontSize":17.8,"titlePadding":18,"labelFontSize":22,"labelPadding":15,"domain":false,"tickSize":-7,"values":[0,0.02143,0.04286,0.06429,0.08571,0.10714,0.12857,0.15,0.17143,0.19286,0.21429,0.23571,0.25714,0.27857,0.3],"labelExpr":"round(datum.value/0.3*14)%2==0?replace(format(datum.value,'.2f'),'.',','):''"}},"x2":{"field":"v1"}}},
{"data":{"values":[{"x":-0.0097}]},"mark":{"type":"point","shape":"M1,-1L-1,0L1,1Z","filled":true,"size":900,"stroke":"#222","strokeWidth":1,"opacity":1,"color":"#7f0000"},"encoding":{"x":{"field":"x","type":"quantitative"}}},
{"data":{"values":[{"x":0.3097}]},"mark":{"type":"point","shape":"M-1,-1L1,0L-1,1Z","filled":true,"size":900,"stroke":"#222","strokeWidth":1,"opacity":1,"color":"#0000c0"},"encoding":{"x":{"field":"x","type":"quantitative"}}}]},
{"width":1,"height":1,"view":{"stroke":null},"data":{"values":[{"gap":1}]},"mark":{"type":"text","text":""},"encoding":{}}
]}
